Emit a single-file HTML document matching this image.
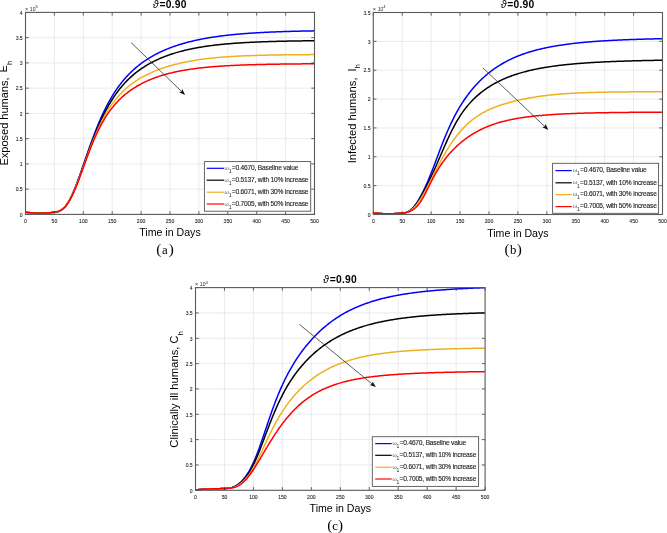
<!DOCTYPE html><html><head><meta charset="utf-8"><title>Figure</title><style>html,body{margin:0;padding:0;background:#fff;overflow:hidden;}svg{display:block;will-change:transform;filter:blur(0.3px);}</style></head><body>
<svg width="667" height="533" viewBox="0 0 667 533">
<rect width="667" height="533" fill="#fff"/>
<path d="M54.4 214.4V12.4M83.3 214.4V12.4M112.2 214.4V12.4M141.1 214.4V12.4M170 214.4V12.4M198.9 214.4V12.4M227.8 214.4V12.4M256.7 214.4V12.4M285.6 214.4V12.4M25.5 189.15H314.5M25.5 163.9H314.5M25.5 138.65H314.5M25.5 113.4H314.5M25.5 88.15H314.5M25.5 62.9H314.5M25.5 37.65H314.5" stroke="#e6e6e6" stroke-width="0.8" fill="none"/>
<path d="M25.5 212.28 26.37 212.36 27.23 212.45 28.1 212.53 28.97 212.6 29.84 212.67 30.7 212.74 31.57 212.8 32.44 212.85 33.3 212.9 34.17 212.95 35.04 213 35.9 213.04 36.77 213.09 37.64 213.12 38.5 213.16 39.37 213.18 40.24 213.19 41.11 213.19 41.97 213.17 42.84 213.15 43.71 213.13 44.57 213.09 45.44 213.05 46.31 213.01 47.17 212.96 48.04 212.92 48.91 212.87 49.78 212.79 50.64 212.69 51.51 212.58 52.38 212.46 53.24 212.36 54.11 212.27 54.98 212.19 55.84 212.09 56.71 211.95 57.58 211.75 58.45 211.5 59.31 211.18 60.18 210.79 61.05 210.3 61.91 209.73 62.78 209.06 63.65 208.28 64.52 207.39 65.38 206.39 66.25 205.27 67.12 204.04 67.98 202.7 68.85 201.24 69.72 199.67 70.58 198 71.45 196.22 72.32 194.35 73.19 192.39 74.05 190.35 74.92 188.22 75.79 186.03 76.65 183.78 77.52 181.46 78.39 179.1 79.25 176.7 80.12 174.26 80.99 171.79 81.86 169.31 82.72 166.8 83.59 164.29 84.46 161.77 85.32 159.25 86.19 156.74 87.06 154.24 87.92 151.75 88.79 149.29 89.66 146.84 90.53 144.42 91.39 142.03 92.26 139.67 93.13 137.34 93.99 135.04 94.86 132.79 95.73 130.57 96.59 128.38 97.46 126.24 98.33 124.14 99.2 122.08 100.06 120.07 100.93 118.09 101.8 116.16 102.66 114.27 103.53 112.42 104.4 110.61 105.26 108.85 106.13 107.13 107 105.44 107.86 103.8 108.73 102.2 109.6 100.63 110.47 99.1 111.33 97.61 112.2 96.16 113.07 94.75 113.93 93.36 114.8 92.02 115.67 90.7 116.53 89.42 117.4 88.17 118.27 86.95 119.14 85.76 120 84.61 120.87 83.48 121.74 82.37 122.6 81.3 123.47 80.25 124.34 79.22 125.2 78.23 126.07 77.25 126.94 76.3 127.81 75.37 128.67 74.46 129.54 73.58 130.41 72.71 131.27 71.87 132.14 71.04 133.01 70.24 133.88 69.45 134.74 68.68 135.61 67.93 136.48 67.19 137.34 66.47 138.21 65.77 139.08 65.08 139.94 64.41 140.81 63.75 141.68 63.1 142.55 62.47 143.41 61.86 144.28 61.25 145.15 60.66 146.01 60.08 146.88 59.52 147.75 58.96 148.61 58.42 149.48 57.88 150.35 57.36 151.22 56.85 152.08 56.35 152.95 55.86 153.82 55.38 154.68 54.9 155.55 54.44 156.42 53.99 157.28 53.54 158.15 53.11 159.02 52.68 159.89 52.26 160.75 51.85 161.62 51.44 162.49 51.05 163.35 50.66 164.22 50.28 165.09 49.91 165.95 49.54 166.82 49.18 167.69 48.83 168.56 48.48 169.42 48.14 170.29 47.81 171.16 47.48 172.02 47.16 172.89 46.84 173.76 46.53 174.62 46.23 175.49 45.93 176.36 45.64 177.22 45.35 178.09 45.07 178.96 44.79 179.83 44.52 180.69 44.25 181.56 43.99 182.43 43.73 183.29 43.48 184.16 43.23 185.03 42.99 185.9 42.75 186.76 42.52 187.63 42.29 188.5 42.06 189.36 41.84 190.23 41.62 191.1 41.41 191.96 41.2 192.83 40.99 193.7 40.79 194.56 40.59 195.43 40.39 196.3 40.2 197.17 40.01 198.03 39.83 198.9 39.65 199.77 39.47 200.63 39.3 201.5 39.12 202.37 38.96 203.23 38.79 204.1 38.63 204.97 38.47 205.84 38.31 206.7 38.16 207.57 38.01 208.44 37.86 209.3 37.72 210.17 37.57 211.04 37.43 211.91 37.3 212.77 37.16 213.64 37.03 214.51 36.9 215.37 36.77 216.24 36.65 217.11 36.52 217.97 36.4 218.84 36.29 219.71 36.17 220.58 36.06 221.44 35.94 222.31 35.83 223.18 35.73 224.04 35.62 224.91 35.52 225.78 35.42 226.64 35.32 227.51 35.22 228.38 35.12 229.24 35.03 230.11 34.93 230.98 34.84 231.85 34.75 232.71 34.67 233.58 34.58 234.45 34.5 235.31 34.41 236.18 34.33 237.05 34.25 237.91 34.17 238.78 34.1 239.65 34.02 240.52 33.95 241.38 33.87 242.25 33.8 243.12 33.73 243.98 33.67 244.85 33.6 245.72 33.53 246.59 33.47 247.45 33.4 248.32 33.34 249.19 33.28 250.05 33.22 250.92 33.16 251.79 33.1 252.65 33.05 253.52 32.99 254.39 32.94 255.26 32.88 256.12 32.83 256.99 32.78 257.86 32.73 258.72 32.68 259.59 32.63 260.46 32.58 261.32 32.54 262.19 32.49 263.06 32.44 263.92 32.4 264.79 32.36 265.66 32.31 266.53 32.27 267.39 32.23 268.26 32.19 269.13 32.15 269.99 32.11 270.86 32.07 271.73 32.04 272.6 32 273.46 31.96 274.33 31.93 275.2 31.89 276.06 31.86 276.93 31.83 277.8 31.79 278.66 31.76 279.53 31.73 280.4 31.7 281.26 31.67 282.13 31.64 283 31.61 283.87 31.58 284.73 31.55 285.6 31.53 286.47 31.5 287.33 31.47 288.2 31.45 289.07 31.42 289.94 31.4 290.8 31.37 291.67 31.35 292.54 31.32 293.4 31.3 294.27 31.28 295.14 31.26 296 31.23 296.87 31.21 297.74 31.19 298.6 31.17 299.47 31.15 300.34 31.13 301.21 31.11 302.07 31.09 302.94 31.07 303.81 31.05 304.67 31.04 305.54 31.02 306.41 31 307.27 30.98 308.14 30.97 309.01 30.95 309.88 30.93 310.74 30.92 311.61 30.9 312.48 30.89 313.34 30.87 314.21 30.86" stroke="#0000ff" stroke-width="1.5" fill="none" stroke-linejoin="round"/>
<path d="M25.5 212.28 26.37 212.36 27.23 212.45 28.1 212.53 28.97 212.6 29.84 212.67 30.7 212.74 31.57 212.8 32.44 212.85 33.3 212.9 34.17 212.95 35.04 213 35.9 213.04 36.77 213.09 37.64 213.12 38.5 213.16 39.37 213.18 40.24 213.19 41.11 213.19 41.97 213.17 42.84 213.15 43.71 213.13 44.57 213.09 45.44 213.05 46.31 213.01 47.17 212.96 48.04 212.91 48.91 212.86 49.78 212.79 50.64 212.68 51.51 212.56 52.38 212.44 53.24 212.33 54.11 212.23 54.98 212.15 55.84 212.03 56.71 211.87 57.58 211.67 58.45 211.41 59.31 211.08 60.18 210.68 61.05 210.19 61.91 209.62 62.78 208.96 63.65 208.19 64.52 207.32 65.38 206.34 66.25 205.25 67.12 204.05 67.98 202.74 68.85 201.32 69.72 199.8 70.58 198.17 71.45 196.45 72.32 194.63 73.19 192.72 74.05 190.73 74.92 188.67 75.79 186.53 76.65 184.34 77.52 182.08 78.39 179.78 79.25 177.44 80.12 175.06 80.99 172.66 81.86 170.23 82.72 167.79 83.59 165.34 84.46 162.88 85.32 160.43 86.19 157.98 87.06 155.55 87.92 153.12 88.79 150.72 89.66 148.34 90.53 145.99 91.39 143.66 92.26 141.36 93.13 139.1 93.99 136.88 94.86 134.69 95.73 132.54 96.59 130.42 97.46 128.35 98.33 126.32 99.2 124.34 100.06 122.39 100.93 120.49 101.8 118.63 102.66 116.81 103.53 115.03 104.4 113.3 105.26 111.61 106.13 109.96 107 108.35 107.86 106.78 108.73 105.24 109.6 103.75 110.47 102.3 111.33 100.88 112.2 99.5 113.07 98.15 113.93 96.84 114.8 95.56 115.67 94.32 116.53 93.11 117.4 91.93 118.27 90.77 119.14 89.65 120 88.56 120.87 87.5 121.74 86.46 122.6 85.45 123.47 84.46 124.34 83.5 125.2 82.56 126.07 81.65 126.94 80.76 127.81 79.89 128.67 79.04 129.54 78.21 130.41 77.4 131.27 76.62 132.14 75.85 133.01 75.1 133.88 74.36 134.74 73.65 135.61 72.95 136.48 72.26 137.34 71.6 138.21 70.94 139.08 70.3 139.94 69.68 140.81 69.07 141.68 68.48 142.55 67.89 143.41 67.32 144.28 66.77 145.15 66.22 146.01 65.69 146.88 65.17 147.75 64.66 148.61 64.16 149.48 63.67 150.35 63.19 151.22 62.72 152.08 62.26 152.95 61.81 153.82 61.37 154.68 60.94 155.55 60.52 156.42 60.11 157.28 59.7 158.15 59.31 159.02 58.92 159.89 58.54 160.75 58.17 161.62 57.8 162.49 57.44 163.35 57.09 164.22 56.75 165.09 56.41 165.95 56.08 166.82 55.76 167.69 55.45 168.56 55.14 169.42 54.83 170.29 54.53 171.16 54.24 172.02 53.96 172.89 53.68 173.76 53.4 174.62 53.13 175.49 52.87 176.36 52.61 177.22 52.36 178.09 52.11 178.96 51.87 179.83 51.63 180.69 51.4 181.56 51.17 182.43 50.94 183.29 50.72 184.16 50.51 185.03 50.3 185.9 50.09 186.76 49.89 187.63 49.69 188.5 49.49 189.36 49.3 190.23 49.12 191.1 48.93 191.96 48.76 192.83 48.58 193.7 48.41 194.56 48.24 195.43 48.07 196.3 47.91 197.17 47.75 198.03 47.6 198.9 47.45 199.77 47.3 200.63 47.15 201.5 47.01 202.37 46.87 203.23 46.73 204.1 46.6 204.97 46.46 205.84 46.34 206.7 46.21 207.57 46.09 208.44 45.96 209.3 45.85 210.17 45.73 211.04 45.62 211.91 45.5 212.77 45.39 213.64 45.29 214.51 45.18 215.37 45.08 216.24 44.98 217.11 44.88 217.97 44.79 218.84 44.69 219.71 44.6 220.58 44.51 221.44 44.42 222.31 44.33 223.18 44.25 224.04 44.16 224.91 44.08 225.78 44 226.64 43.93 227.51 43.85 228.38 43.77 229.24 43.7 230.11 43.63 230.98 43.56 231.85 43.49 232.71 43.42 233.58 43.36 234.45 43.29 235.31 43.23 236.18 43.17 237.05 43.11 237.91 43.05 238.78 42.99 239.65 42.93 240.52 42.88 241.38 42.82 242.25 42.77 243.12 42.72 243.98 42.67 244.85 42.62 245.72 42.57 246.59 42.52 247.45 42.47 248.32 42.43 249.19 42.38 250.05 42.34 250.92 42.3 251.79 42.26 252.65 42.21 253.52 42.17 254.39 42.13 255.26 42.1 256.12 42.06 256.99 42.02 257.86 41.98 258.72 41.95 259.59 41.91 260.46 41.88 261.32 41.85 262.19 41.82 263.06 41.78 263.92 41.75 264.79 41.72 265.66 41.69 266.53 41.66 267.39 41.63 268.26 41.61 269.13 41.58 269.99 41.55 270.86 41.53 271.73 41.5 272.6 41.48 273.46 41.45 274.33 41.43 275.2 41.4 276.06 41.38 276.93 41.36 277.8 41.34 278.66 41.31 279.53 41.29 280.4 41.27 281.26 41.25 282.13 41.23 283 41.21 283.87 41.19 284.73 41.18 285.6 41.16 286.47 41.14 287.33 41.12 288.2 41.11 289.07 41.09 289.94 41.07 290.8 41.06 291.67 41.04 292.54 41.03 293.4 41.01 294.27 41 295.14 40.98 296 40.97 296.87 40.95 297.74 40.94 298.6 40.93 299.47 40.91 300.34 40.9 301.21 40.89 302.07 40.88 302.94 40.87 303.81 40.85 304.67 40.84 305.54 40.83 306.41 40.82 307.27 40.81 308.14 40.8 309.01 40.79 309.88 40.78 310.74 40.77 311.61 40.76 312.48 40.75 313.34 40.74 314.21 40.73" stroke="#000000" stroke-width="1.5" fill="none" stroke-linejoin="round"/>
<path d="M25.5 212.28 26.37 212.36 27.23 212.45 28.1 212.53 28.97 212.6 29.84 212.67 30.7 212.74 31.57 212.8 32.44 212.85 33.3 212.9 34.17 212.95 35.04 213 35.9 213.04 36.77 213.09 37.64 213.12 38.5 213.16 39.37 213.18 40.24 213.19 41.11 213.19 41.97 213.17 42.84 213.15 43.71 213.13 44.57 213.09 45.44 213.05 46.31 213.01 47.17 212.96 48.04 212.91 48.91 212.86 49.78 212.78 50.64 212.68 51.51 212.56 52.38 212.43 53.24 212.32 54.11 212.21 54.98 212.12 55.84 212 56.71 211.84 57.58 211.63 58.45 211.36 59.31 211.03 60.18 210.63 61.05 210.14 61.91 209.57 62.78 208.9 63.65 208.14 64.52 207.28 65.38 206.31 66.25 205.23 67.12 204.04 67.98 202.75 68.85 201.36 69.72 199.85 70.58 198.25 71.45 196.55 72.32 194.77 73.19 192.89 74.05 190.94 74.92 188.91 75.79 186.81 76.65 184.65 77.52 182.44 78.39 180.19 79.25 177.89 80.12 175.57 80.99 173.21 81.86 170.84 82.72 168.45 83.59 166.06 84.46 163.67 85.32 161.28 86.19 158.9 87.06 156.53 87.92 154.19 88.79 151.86 89.66 149.56 90.53 147.29 91.39 145.05 92.26 142.85 93.13 140.68 93.99 138.56 94.86 136.47 95.73 134.42 96.59 132.42 97.46 130.46 98.33 128.55 99.2 126.68 100.06 124.86 100.93 123.08 101.8 121.35 102.66 119.67 103.53 118.02 104.4 116.43 105.26 114.87 106.13 113.36 107 111.9 107.86 110.47 108.73 109.09 109.6 107.74 110.47 106.44 111.33 105.17 112.2 103.94 113.07 102.74 113.93 101.58 114.8 100.46 115.67 99.37 116.53 98.3 117.4 97.28 118.27 96.28 119.14 95.3 120 94.36 120.87 93.44 121.74 92.55 122.6 91.69 123.47 90.85 124.34 90.03 125.2 89.24 126.07 88.46 126.94 87.71 127.81 86.98 128.67 86.26 129.54 85.57 130.41 84.89 131.27 84.23 132.14 83.59 133.01 82.96 133.88 82.35 134.74 81.75 135.61 81.17 136.48 80.6 137.34 80.05 138.21 79.51 139.08 78.98 139.94 78.46 140.81 77.95 141.68 77.46 142.55 76.97 143.41 76.5 144.28 76.04 145.15 75.59 146.01 75.14 146.88 74.71 147.75 74.28 148.61 73.87 149.48 73.46 150.35 73.06 151.22 72.67 152.08 72.29 152.95 71.91 153.82 71.54 154.68 71.18 155.55 70.83 156.42 70.48 157.28 70.14 158.15 69.81 159.02 69.48 159.89 69.16 160.75 68.85 161.62 68.54 162.49 68.24 163.35 67.94 164.22 67.65 165.09 67.36 165.95 67.08 166.82 66.81 167.69 66.54 168.56 66.28 169.42 66.02 170.29 65.77 171.16 65.52 172.02 65.27 172.89 65.03 173.76 64.8 174.62 64.57 175.49 64.35 176.36 64.12 177.22 63.91 178.09 63.7 178.96 63.49 179.83 63.28 180.69 63.09 181.56 62.89 182.43 62.7 183.29 62.51 184.16 62.33 185.03 62.15 185.9 61.97 186.76 61.8 187.63 61.63 188.5 61.46 189.36 61.3 190.23 61.14 191.1 60.98 191.96 60.83 192.83 60.68 193.7 60.54 194.56 60.39 195.43 60.25 196.3 60.12 197.17 59.98 198.03 59.85 198.9 59.72 199.77 59.6 200.63 59.47 201.5 59.35 202.37 59.23 203.23 59.12 204.1 59.01 204.97 58.9 205.84 58.79 206.7 58.68 207.57 58.58 208.44 58.48 209.3 58.38 210.17 58.29 211.04 58.19 211.91 58.1 212.77 58.01 213.64 57.92 214.51 57.84 215.37 57.75 216.24 57.67 217.11 57.59 217.97 57.52 218.84 57.44 219.71 57.36 220.58 57.29 221.44 57.22 222.31 57.15 223.18 57.08 224.04 57.02 224.91 56.95 225.78 56.89 226.64 56.83 227.51 56.77 228.38 56.71 229.24 56.65 230.11 56.6 230.98 56.54 231.85 56.49 232.71 56.44 233.58 56.39 234.45 56.34 235.31 56.29 236.18 56.24 237.05 56.2 237.91 56.15 238.78 56.11 239.65 56.07 240.52 56.02 241.38 55.98 242.25 55.94 243.12 55.9 243.98 55.87 244.85 55.83 245.72 55.79 246.59 55.76 247.45 55.73 248.32 55.69 249.19 55.66 250.05 55.63 250.92 55.6 251.79 55.57 252.65 55.54 253.52 55.51 254.39 55.48 255.26 55.46 256.12 55.43 256.99 55.4 257.86 55.38 258.72 55.35 259.59 55.33 260.46 55.31 261.32 55.28 262.19 55.26 263.06 55.24 263.92 55.22 264.79 55.2 265.66 55.18 266.53 55.16 267.39 55.14 268.26 55.12 269.13 55.1 269.99 55.09 270.86 55.07 271.73 55.05 272.6 55.04 273.46 55.02 274.33 55.01 275.2 54.99 276.06 54.98 276.93 54.96 277.8 54.95 278.66 54.94 279.53 54.92 280.4 54.91 281.26 54.9 282.13 54.89 283 54.87 283.87 54.86 284.73 54.85 285.6 54.84 286.47 54.83 287.33 54.82 288.2 54.81 289.07 54.8 289.94 54.79 290.8 54.78 291.67 54.77 292.54 54.76 293.4 54.75 294.27 54.75 295.14 54.74 296 54.73 296.87 54.72 297.74 54.71 298.6 54.71 299.47 54.7 300.34 54.69 301.21 54.69 302.07 54.68 302.94 54.67 303.81 54.67 304.67 54.66 305.54 54.65 306.41 54.65 307.27 54.64 308.14 54.64 309.01 54.63 309.88 54.63 310.74 54.62 311.61 54.62 312.48 54.61 313.34 54.61 314.21 54.6" stroke="#edb120" stroke-width="1.5" fill="none" stroke-linejoin="round"/>
<path d="M25.5 212.28 26.37 212.36 27.23 212.45 28.1 212.53 28.97 212.6 29.84 212.67 30.7 212.74 31.57 212.8 32.44 212.85 33.3 212.9 34.17 212.95 35.04 213 35.9 213.04 36.77 213.09 37.64 213.12 38.5 213.16 39.37 213.18 40.24 213.19 41.11 213.19 41.97 213.17 42.84 213.15 43.71 213.12 44.57 213.08 45.44 213.04 46.31 212.99 47.17 212.94 48.04 212.88 48.91 212.81 49.78 212.71 50.64 212.59 51.51 212.44 52.38 212.29 53.24 212.14 54.11 212.01 54.98 211.9 55.84 211.75 56.71 211.58 57.58 211.36 58.45 211.1 59.31 210.78 60.18 210.4 61.05 209.95 61.91 209.42 62.78 208.82 63.65 208.12 64.52 207.32 65.38 206.43 66.25 205.43 67.12 204.33 67.98 203.11 68.85 201.79 69.72 200.36 70.58 198.82 71.45 197.18 72.32 195.44 73.19 193.6 74.05 191.68 74.92 189.67 75.79 187.59 76.65 185.44 77.52 183.23 78.39 180.97 79.25 178.67 80.12 176.33 80.99 173.97 81.86 171.59 82.72 169.2 83.59 166.8 84.46 164.41 85.32 162.03 86.19 159.66 87.06 157.32 87.92 155 88.79 152.71 89.66 150.45 90.53 148.23 91.39 146.05 92.26 143.92 93.13 141.83 93.99 139.79 94.86 137.79 95.73 135.84 96.59 133.95 97.46 132.1 98.33 130.3 99.2 128.55 100.06 126.85 100.93 125.2 101.8 123.6 102.66 122.05 103.53 120.54 104.4 119.07 105.26 117.65 106.13 116.28 107 114.94 107.86 113.65 108.73 112.39 109.6 111.18 110.47 110 111.33 108.85 112.2 107.74 113.07 106.66 113.93 105.62 114.8 104.6 115.67 103.62 116.53 102.66 117.4 101.73 118.27 100.83 119.14 99.95 120 99.09 120.87 98.26 121.74 97.46 122.6 96.67 123.47 95.9 124.34 95.16 125.2 94.43 126.07 93.73 126.94 93.04 127.81 92.37 128.67 91.72 129.54 91.08 130.41 90.46 131.27 89.85 132.14 89.26 133.01 88.68 133.88 88.12 134.74 87.57 135.61 87.03 136.48 86.51 137.34 85.99 138.21 85.49 139.08 85.01 139.94 84.53 140.81 84.06 141.68 83.61 142.55 83.16 143.41 82.73 144.28 82.3 145.15 81.88 146.01 81.48 146.88 81.08 147.75 80.69 148.61 80.31 149.48 79.94 150.35 79.58 151.22 79.22 152.08 78.87 152.95 78.54 153.82 78.2 154.68 77.88 155.55 77.56 156.42 77.25 157.28 76.95 158.15 76.65 159.02 76.36 159.89 76.08 160.75 75.8 161.62 75.53 162.49 75.26 163.35 75 164.22 74.75 165.09 74.5 165.95 74.25 166.82 74.02 167.69 73.78 168.56 73.56 169.42 73.34 170.29 73.12 171.16 72.91 172.02 72.7 172.89 72.49 173.76 72.3 174.62 72.1 175.49 71.91 176.36 71.73 177.22 71.54 178.09 71.37 178.96 71.19 179.83 71.02 180.69 70.86 181.56 70.69 182.43 70.54 183.29 70.38 184.16 70.23 185.03 70.08 185.9 69.94 186.76 69.79 187.63 69.66 188.5 69.52 189.36 69.39 190.23 69.26 191.1 69.13 191.96 69.01 192.83 68.89 193.7 68.77 194.56 68.65 195.43 68.54 196.3 68.43 197.17 68.32 198.03 68.21 198.9 68.11 199.77 68.01 200.63 67.91 201.5 67.82 202.37 67.72 203.23 67.63 204.1 67.54 204.97 67.45 205.84 67.36 206.7 67.28 207.57 67.2 208.44 67.12 209.3 67.04 210.17 66.96 211.04 66.89 211.91 66.81 212.77 66.74 213.64 66.67 214.51 66.6 215.37 66.53 216.24 66.47 217.11 66.4 217.97 66.34 218.84 66.28 219.71 66.22 220.58 66.16 221.44 66.1 222.31 66.05 223.18 65.99 224.04 65.94 224.91 65.89 225.78 65.83 226.64 65.78 227.51 65.74 228.38 65.69 229.24 65.64 230.11 65.59 230.98 65.55 231.85 65.51 232.71 65.46 233.58 65.42 234.45 65.38 235.31 65.34 236.18 65.3 237.05 65.26 237.91 65.23 238.78 65.19 239.65 65.15 240.52 65.12 241.38 65.08 242.25 65.05 243.12 65.02 243.98 64.98 244.85 64.95 245.72 64.92 246.59 64.89 247.45 64.86 248.32 64.83 249.19 64.81 250.05 64.78 250.92 64.75 251.79 64.73 252.65 64.7 253.52 64.68 254.39 64.65 255.26 64.63 256.12 64.6 256.99 64.58 257.86 64.56 258.72 64.54 259.59 64.51 260.46 64.49 261.32 64.47 262.19 64.45 263.06 64.43 263.92 64.41 264.79 64.39 265.66 64.38 266.53 64.36 267.39 64.34 268.26 64.32 269.13 64.31 269.99 64.29 270.86 64.27 271.73 64.26 272.6 64.24 273.46 64.23 274.33 64.21 275.2 64.2 276.06 64.18 276.93 64.17 277.8 64.15 278.66 64.14 279.53 64.13 280.4 64.12 281.26 64.1 282.13 64.09 283 64.08 283.87 64.07 284.73 64.05 285.6 64.04 286.47 64.03 287.33 64.02 288.2 64.01 289.07 64 289.94 63.99 290.8 63.98 291.67 63.97 292.54 63.96 293.4 63.95 294.27 63.94 295.14 63.93 296 63.93 296.87 63.92 297.74 63.91 298.6 63.9 299.47 63.89 300.34 63.88 301.21 63.88 302.07 63.87 302.94 63.86 303.81 63.85 304.67 63.85 305.54 63.84 306.41 63.83 307.27 63.83 308.14 63.82 309.01 63.81 309.88 63.81 310.74 63.8 311.61 63.8 312.48 63.79 313.34 63.78 314.21 63.78" stroke="#ff0000" stroke-width="1.5" fill="none" stroke-linejoin="round"/>
<path d="M25.5 214.4v-3.2M25.5 12.4v3.2M54.4 214.4v-3.2M54.4 12.4v3.2M83.3 214.4v-3.2M83.3 12.4v3.2M112.2 214.4v-3.2M112.2 12.4v3.2M141.1 214.4v-3.2M141.1 12.4v3.2M170 214.4v-3.2M170 12.4v3.2M198.9 214.4v-3.2M198.9 12.4v3.2M227.8 214.4v-3.2M227.8 12.4v3.2M256.7 214.4v-3.2M256.7 12.4v3.2M285.6 214.4v-3.2M285.6 12.4v3.2M314.5 214.4v-3.2M314.5 12.4v3.2M25.5 214.4h3.2M314.5 214.4h-3.2M25.5 189.15h3.2M314.5 189.15h-3.2M25.5 163.9h3.2M314.5 163.9h-3.2M25.5 138.65h3.2M314.5 138.65h-3.2M25.5 113.4h3.2M314.5 113.4h-3.2M25.5 88.15h3.2M314.5 88.15h-3.2M25.5 62.9h3.2M314.5 62.9h-3.2M25.5 37.65h3.2M314.5 37.65h-3.2M25.5 12.4h3.2M314.5 12.4h-3.2" stroke="#262626" stroke-width="0.7" fill="none"/>
<rect x="25.5" y="12.4" width="289" height="202" fill="none" stroke="#5a5a5a" stroke-width="1.1"/>
<g font-family='"Liberation Sans", sans-serif' font-size="6.2" fill="#262626" stroke="#262626" stroke-width="0.1"><text transform="translate(25.5 223.3) scale(0.82 1)" text-anchor="middle">0</text><text transform="translate(54.4 223.3) scale(0.82 1)" text-anchor="middle">50</text><text transform="translate(83.3 223.3) scale(0.82 1)" text-anchor="middle">100</text><text transform="translate(112.2 223.3) scale(0.82 1)" text-anchor="middle">150</text><text transform="translate(141.1 223.3) scale(0.82 1)" text-anchor="middle">200</text><text transform="translate(170 223.3) scale(0.82 1)" text-anchor="middle">250</text><text transform="translate(198.9 223.3) scale(0.82 1)" text-anchor="middle">300</text><text transform="translate(227.8 223.3) scale(0.82 1)" text-anchor="middle">350</text><text transform="translate(256.7 223.3) scale(0.82 1)" text-anchor="middle">400</text><text transform="translate(285.6 223.3) scale(0.82 1)" text-anchor="middle">450</text><text transform="translate(314.5 223.3) scale(0.82 1)" text-anchor="middle">500</text><text transform="translate(22.7 216.65) scale(0.82 1)" text-anchor="end">0</text><text transform="translate(22.7 191.4) scale(0.82 1)" text-anchor="end">0.5</text><text transform="translate(22.7 166.15) scale(0.82 1)" text-anchor="end">1</text><text transform="translate(22.7 140.9) scale(0.82 1)" text-anchor="end">1.5</text><text transform="translate(22.7 115.65) scale(0.82 1)" text-anchor="end">2</text><text transform="translate(22.7 90.4) scale(0.82 1)" text-anchor="end">2.5</text><text transform="translate(22.7 65.15) scale(0.82 1)" text-anchor="end">3</text><text transform="translate(22.7 39.9) scale(0.82 1)" text-anchor="end">3.5</text><text transform="translate(22.7 14.65) scale(0.82 1)" text-anchor="end">4</text></g>
<g font-family='"Liberation Sans", sans-serif' fill="#262626"><text x="24.93" y="11" font-size="5.4">&#215;</text><text x="29.87" y="11" font-size="5">10</text><text x="35.45" y="8.3" font-size="4.2">5</text></g>
<text x="152.8" y="7.5" font-family='"Liberation Sans", sans-serif' font-size="10.5" font-style="italic" fill="#000">&#977;</text>
<text x="159.4" y="7.5" font-family='"Liberation Sans", sans-serif' font-size="10.3" font-weight="bold" fill="#000" textLength="27.0" lengthAdjust="spacing"><tspan dy="0.6">=</tspan><tspan dy="-0.6">0.90</tspan></text>
<text x="170" y="236.4" font-family='"Liberation Sans", sans-serif' font-size="10.6" fill="#000" text-anchor="middle">Time in Days</text>
<g font-family='"Liberation Serif", serif' fill="#000">
<text x="156.23" y="254.45" font-size="15.2">(</text>
<text x="162.07" y="254.15" font-size="12.8">a</text>
<text x="168.81" y="254.45" font-size="15.2">)</text>
</g>
<rect x="204.4" y="161.6" width="106.3" height="49.6" fill="#fff" stroke="#555" stroke-width="0.9"/>
<path d="M206.7 168.3H224" stroke="#0000ff" stroke-width="1.2"/>
<text x="224.6" y="169.8" font-family='"Liberation Sans", sans-serif' font-size="5.4" fill="#555">&#969;</text>
<text x="228.8" y="173.1" font-family='"Liberation Sans", sans-serif' font-size="5.0" fill="#222">1</text>
<text x="231.8" y="170" font-family='"Liberation Sans", sans-serif' font-size="6.6" fill="#222" stroke="#222" stroke-width="0.12" textLength="66.5" lengthAdjust="spacing">=0.4670, Baseline value</text>
<path d="M206.7 180.2H224" stroke="#000000" stroke-width="1.2"/>
<text x="224.6" y="181.7" font-family='"Liberation Sans", sans-serif' font-size="5.4" fill="#555">&#969;</text>
<text x="228.8" y="185" font-family='"Liberation Sans", sans-serif' font-size="5.0" fill="#222">1</text>
<text x="231.8" y="181.9" font-family='"Liberation Sans", sans-serif' font-size="6.6" fill="#222" stroke="#222" stroke-width="0.12" textLength="76.7" lengthAdjust="spacing">=0.5137, with 10% increase</text>
<path d="M206.7 192.2H224" stroke="#edb120" stroke-width="1.2"/>
<text x="224.6" y="193.7" font-family='"Liberation Sans", sans-serif' font-size="5.4" fill="#555">&#969;</text>
<text x="228.8" y="197" font-family='"Liberation Sans", sans-serif' font-size="5.0" fill="#222">1</text>
<text x="231.8" y="193.9" font-family='"Liberation Sans", sans-serif' font-size="6.6" fill="#222" stroke="#222" stroke-width="0.12" textLength="76.7" lengthAdjust="spacing">=0.6071, with 30% increase</text>
<path d="M206.7 204H224" stroke="#ff0000" stroke-width="1.2"/>
<text x="224.6" y="205.5" font-family='"Liberation Sans", sans-serif' font-size="5.4" fill="#555">&#969;</text>
<text x="228.8" y="208.8" font-family='"Liberation Sans", sans-serif' font-size="5.0" fill="#222">1</text>
<text x="231.8" y="205.7" font-family='"Liberation Sans", sans-serif' font-size="6.6" fill="#222" stroke="#222" stroke-width="0.12" textLength="76.7" lengthAdjust="spacing">=0.7005, with 50% increase</text>
<path d="M131.1 42.6L181.75 91.66" stroke="#333" stroke-width="0.8"/>
<path d="M185.1 94.9L179.05 92.24L181.54 91.45L182.25 88.93Z" fill="#111"/>
<text transform="translate(7.7 165.5) rotate(-90)" font-family='"Liberation Sans", sans-serif' font-size="10.9" fill="#000" textLength="88" lengthAdjust="spacingAndGlyphs">Exposed humans,</text>
<text transform="translate(7.2 72.5) rotate(-90)" font-family='"Liberation Sans", sans-serif' font-size="10.9" fill="#000">E</text>
<text transform="translate(12.3 65.1) rotate(-90)" font-family='"Liberation Sans", sans-serif' font-size="7.8" fill="#000">h</text>
<path d="M402.22 214.5V12.5M431.14 214.5V12.5M460.06 214.5V12.5M488.98 214.5V12.5M517.9 214.5V12.5M546.82 214.5V12.5M575.74 214.5V12.5M604.66 214.5V12.5M633.58 214.5V12.5M373.3 185.64H662.5M373.3 156.79H662.5M373.3 127.93H662.5M373.3 99.07H662.5M373.3 70.21H662.5M373.3 41.36H662.5" stroke="#e6e6e6" stroke-width="0.8" fill="none"/>
<path d="M373.3 212.88 374.17 212.97 375.04 213.05 375.9 213.13 376.77 213.21 377.64 213.28 378.51 213.34 379.37 213.41 380.24 213.46 381.11 213.52 381.98 213.57 382.84 213.63 383.71 213.68 384.58 213.73 385.45 213.77 386.31 213.79 387.18 213.81 388.05 213.81 388.92 213.8 389.78 213.78 390.65 213.76 391.52 213.73 392.39 213.7 393.25 213.66 394.12 213.63 394.99 213.59 395.86 213.55 396.73 213.48 397.59 213.4 398.46 213.31 399.33 213.22 400.2 213.13 401.06 213.04 401.93 212.97 402.8 212.9 403.67 212.81 404.53 212.68 405.4 212.49 406.27 212.25 407.14 211.93 408 211.54 408.87 211.06 409.74 210.51 410.61 209.86 411.47 209.12 412.34 208.3 413.21 207.38 414.08 206.38 414.94 205.3 415.81 204.13 416.68 202.89 417.55 201.57 418.42 200.17 419.28 198.71 420.15 197.19 421.02 195.6 421.89 193.96 422.75 192.26 423.62 190.5 424.49 188.69 425.36 186.82 426.22 184.91 427.09 182.94 427.96 180.93 428.83 178.87 429.69 176.77 430.56 174.62 431.43 172.44 432.3 170.22 433.16 167.97 434.03 165.7 434.9 163.41 435.77 161.11 436.63 158.8 437.5 156.48 438.37 154.17 439.24 151.86 440.11 149.57 440.97 147.3 441.84 145.05 442.71 142.82 443.58 140.63 444.44 138.47 445.31 136.35 446.18 134.26 447.05 132.21 447.91 130.21 448.78 128.24 449.65 126.32 450.52 124.44 451.38 122.61 452.25 120.81 453.12 119.06 453.99 117.35 454.85 115.68 455.72 114.05 456.59 112.46 457.46 110.91 458.32 109.39 459.19 107.91 460.06 106.46 460.93 105.05 461.8 103.67 462.66 102.32 463.53 101.01 464.4 99.72 465.27 98.46 466.13 97.23 467 96.03 467.87 94.85 468.74 93.7 469.6 92.58 470.47 91.47 471.34 90.4 472.21 89.34 473.07 88.31 473.94 87.3 474.81 86.31 475.68 85.34 476.54 84.39 477.41 83.47 478.28 82.56 479.15 81.67 480.01 80.8 480.88 79.94 481.75 79.11 482.62 78.29 483.49 77.49 484.35 76.71 485.22 75.94 486.09 75.19 486.96 74.45 487.82 73.73 488.69 73.02 489.56 72.33 490.43 71.65 491.29 70.99 492.16 70.34 493.03 69.7 493.9 69.08 494.76 68.47 495.63 67.87 496.5 67.28 497.37 66.71 498.23 66.15 499.1 65.59 499.97 65.06 500.84 64.53 501.7 64.01 502.57 63.5 503.44 63.01 504.31 62.52 505.18 62.04 506.04 61.58 506.91 61.12 507.78 60.67 508.65 60.23 509.51 59.81 510.38 59.38 511.25 58.97 512.12 58.57 512.98 58.17 513.85 57.79 514.72 57.41 515.59 57.03 516.45 56.67 517.32 56.31 518.19 55.96 519.06 55.62 519.92 55.28 520.79 54.96 521.66 54.63 522.53 54.32 523.39 54.01 524.26 53.7 525.13 53.41 526 53.11 526.87 52.83 527.73 52.55 528.6 52.27 529.47 52.01 530.34 51.74 531.2 51.48 532.07 51.23 532.94 50.98 533.81 50.74 534.67 50.5 535.54 50.27 536.41 50.04 537.28 49.81 538.14 49.59 539.01 49.38 539.88 49.17 540.75 48.96 541.61 48.75 542.48 48.55 543.35 48.36 544.22 48.17 545.08 47.98 545.95 47.79 546.82 47.61 547.69 47.44 548.56 47.26 549.42 47.09 550.29 46.92 551.16 46.76 552.03 46.6 552.89 46.44 553.76 46.28 554.63 46.13 555.5 45.98 556.36 45.84 557.23 45.69 558.1 45.55 558.97 45.41 559.83 45.28 560.7 45.14 561.57 45.01 562.44 44.89 563.3 44.76 564.17 44.64 565.04 44.52 565.91 44.4 566.77 44.28 567.64 44.17 568.51 44.05 569.38 43.94 570.25 43.83 571.11 43.73 571.98 43.62 572.85 43.52 573.72 43.42 574.58 43.32 575.45 43.22 576.32 43.13 577.19 43.04 578.05 42.94 578.92 42.85 579.79 42.77 580.66 42.68 581.52 42.59 582.39 42.51 583.26 42.43 584.13 42.35 584.99 42.27 585.86 42.19 586.73 42.11 587.6 42.04 588.46 41.96 589.33 41.89 590.2 41.82 591.07 41.75 591.94 41.68 592.8 41.61 593.67 41.55 594.54 41.48 595.41 41.42 596.27 41.36 597.14 41.29 598.01 41.23 598.88 41.17 599.74 41.12 600.61 41.06 601.48 41 602.35 40.95 603.21 40.89 604.08 40.84 604.95 40.78 605.82 40.73 606.68 40.68 607.55 40.63 608.42 40.58 609.29 40.53 610.15 40.49 611.02 40.44 611.89 40.39 612.76 40.35 613.63 40.3 614.49 40.26 615.36 40.22 616.23 40.17 617.1 40.13 617.96 40.09 618.83 40.05 619.7 40.01 620.57 39.97 621.43 39.94 622.3 39.9 623.17 39.86 624.04 39.83 624.9 39.79 625.77 39.75 626.64 39.72 627.51 39.69 628.37 39.65 629.24 39.62 630.11 39.59 630.98 39.56 631.84 39.52 632.71 39.49 633.58 39.46 634.45 39.43 635.32 39.4 636.18 39.38 637.05 39.35 637.92 39.32 638.79 39.29 639.65 39.26 640.52 39.24 641.39 39.21 642.26 39.19 643.12 39.16 643.99 39.14 644.86 39.11 645.73 39.09 646.59 39.06 647.46 39.04 648.33 39.02 649.2 38.99 650.06 38.97 650.93 38.95 651.8 38.93 652.67 38.91 653.53 38.89 654.4 38.87 655.27 38.85 656.14 38.83 657.01 38.81 657.87 38.79 658.74 38.77 659.61 38.75 660.48 38.73 661.34 38.71 662.21 38.69" stroke="#0000ff" stroke-width="1.5" fill="none" stroke-linejoin="round"/>
<path d="M373.3 212.88 374.17 212.97 375.04 213.05 375.9 213.13 376.77 213.21 377.64 213.28 378.51 213.34 379.37 213.41 380.24 213.46 381.11 213.52 381.98 213.57 382.84 213.63 383.71 213.68 384.58 213.73 385.45 213.77 386.31 213.79 387.18 213.81 388.05 213.81 388.92 213.8 389.78 213.78 390.65 213.76 391.52 213.73 392.39 213.7 393.25 213.66 394.12 213.63 394.99 213.59 395.86 213.55 396.73 213.48 397.59 213.4 398.46 213.31 399.33 213.22 400.2 213.13 401.06 213.06 401.93 213 402.8 212.95 403.67 212.89 404.53 212.79 405.4 212.64 406.27 212.43 407.14 212.15 408 211.79 408.87 211.35 409.74 210.82 410.61 210.2 411.47 209.49 412.34 208.69 413.21 207.81 414.08 206.84 414.94 205.79 415.81 204.66 416.68 203.46 417.55 202.19 418.42 200.86 419.28 199.47 420.15 198.02 421.02 196.53 421.89 195 422.75 193.42 423.62 191.81 424.49 190.17 425.36 188.49 426.22 186.79 427.09 185.06 427.96 183.31 428.83 181.53 429.69 179.73 430.56 177.91 431.43 176.06 432.3 174.2 433.16 172.31 434.03 170.4 434.9 168.46 435.77 166.51 436.63 164.54 437.5 162.56 438.37 160.57 439.24 158.56 440.11 156.55 440.97 154.53 441.84 152.52 442.71 150.51 443.58 148.5 444.44 146.51 445.31 144.54 446.18 142.59 447.05 140.66 447.91 138.76 448.78 136.88 449.65 135.04 450.52 133.24 451.38 131.47 452.25 129.74 453.12 128.05 453.99 126.4 454.85 124.79 455.72 123.22 456.59 121.7 457.46 120.21 458.32 118.77 459.19 117.36 460.06 116 460.93 114.68 461.8 113.39 462.66 112.15 463.53 110.93 464.4 109.76 465.27 108.62 466.13 107.51 467 106.43 467.87 105.38 468.74 104.37 469.6 103.38 470.47 102.42 471.34 101.48 472.21 100.57 473.07 99.69 473.94 98.83 474.81 97.99 475.68 97.17 476.54 96.38 477.41 95.6 478.28 94.85 479.15 94.11 480.01 93.39 480.88 92.69 481.75 92 482.62 91.33 483.49 90.68 484.35 90.04 485.22 89.42 486.09 88.81 486.96 88.22 487.82 87.64 488.69 87.07 489.56 86.52 490.43 85.98 491.29 85.45 492.16 84.93 493.03 84.42 493.9 83.93 494.76 83.44 495.63 82.97 496.5 82.5 497.37 82.05 498.23 81.61 499.1 81.17 499.97 80.75 500.84 80.33 501.7 79.93 502.57 79.53 503.44 79.14 504.31 78.76 505.18 78.38 506.04 78.02 506.91 77.66 507.78 77.31 508.65 76.97 509.51 76.63 510.38 76.3 511.25 75.98 512.12 75.66 512.98 75.36 513.85 75.05 514.72 74.76 515.59 74.47 516.45 74.18 517.32 73.91 518.19 73.63 519.06 73.37 519.92 73.11 520.79 72.85 521.66 72.6 522.53 72.35 523.39 72.11 524.26 71.88 525.13 71.65 526 71.42 526.87 71.2 527.73 70.98 528.6 70.77 529.47 70.56 530.34 70.36 531.2 70.16 532.07 69.96 532.94 69.77 533.81 69.58 534.67 69.39 535.54 69.21 536.41 69.04 537.28 68.86 538.14 68.69 539.01 68.52 539.88 68.36 540.75 68.2 541.61 68.04 542.48 67.89 543.35 67.74 544.22 67.59 545.08 67.44 545.95 67.3 546.82 67.16 547.69 67.02 548.56 66.89 549.42 66.75 550.29 66.63 551.16 66.5 552.03 66.37 552.89 66.25 553.76 66.13 554.63 66.01 555.5 65.9 556.36 65.79 557.23 65.67 558.1 65.57 558.97 65.46 559.83 65.35 560.7 65.25 561.57 65.15 562.44 65.05 563.3 64.95 564.17 64.86 565.04 64.76 565.91 64.67 566.77 64.58 567.64 64.49 568.51 64.41 569.38 64.32 570.25 64.24 571.11 64.16 571.98 64.07 572.85 64 573.72 63.92 574.58 63.84 575.45 63.77 576.32 63.69 577.19 63.62 578.05 63.55 578.92 63.48 579.79 63.41 580.66 63.34 581.52 63.28 582.39 63.21 583.26 63.15 584.13 63.09 584.99 63.02 585.86 62.96 586.73 62.91 587.6 62.85 588.46 62.79 589.33 62.73 590.2 62.68 591.07 62.62 591.94 62.57 592.8 62.52 593.67 62.47 594.54 62.42 595.41 62.37 596.27 62.32 597.14 62.27 598.01 62.22 598.88 62.18 599.74 62.13 600.61 62.09 601.48 62.04 602.35 62 603.21 61.96 604.08 61.91 604.95 61.87 605.82 61.83 606.68 61.79 607.55 61.75 608.42 61.72 609.29 61.68 610.15 61.64 611.02 61.6 611.89 61.57 612.76 61.53 613.63 61.5 614.49 61.47 615.36 61.43 616.23 61.4 617.1 61.37 617.96 61.33 618.83 61.3 619.7 61.27 620.57 61.24 621.43 61.21 622.3 61.18 623.17 61.15 624.04 61.13 624.9 61.1 625.77 61.07 626.64 61.04 627.51 61.02 628.37 60.99 629.24 60.96 630.11 60.94 630.98 60.91 631.84 60.89 632.71 60.87 633.58 60.84 634.45 60.82 635.32 60.8 636.18 60.77 637.05 60.75 637.92 60.73 638.79 60.71 639.65 60.69 640.52 60.67 641.39 60.64 642.26 60.62 643.12 60.6 643.99 60.59 644.86 60.57 645.73 60.55 646.59 60.53 647.46 60.51 648.33 60.49 649.2 60.47 650.06 60.46 650.93 60.44 651.8 60.42 652.67 60.41 653.53 60.39 654.4 60.37 655.27 60.36 656.14 60.34 657.01 60.33 657.87 60.31 658.74 60.29 659.61 60.28 660.48 60.27 661.34 60.25 662.21 60.24" stroke="#000000" stroke-width="1.5" fill="none" stroke-linejoin="round"/>
<path d="M373.3 212.88 374.17 212.97 375.04 213.05 375.9 213.13 376.77 213.21 377.64 213.28 378.51 213.34 379.37 213.41 380.24 213.46 381.11 213.52 381.98 213.57 382.84 213.63 383.71 213.68 384.58 213.73 385.45 213.77 386.31 213.79 387.18 213.81 388.05 213.81 388.92 213.8 389.78 213.78 390.65 213.76 391.52 213.73 392.39 213.7 393.25 213.66 394.12 213.63 394.99 213.59 395.86 213.55 396.73 213.48 397.59 213.4 398.46 213.3 399.33 213.21 400.2 213.11 401.06 213.02 401.93 212.93 402.8 212.86 403.67 212.77 404.53 212.66 405.4 212.5 406.27 212.29 407.14 212.04 408 211.72 408.87 211.34 409.74 210.89 410.61 210.37 411.47 209.78 412.34 209.11 413.21 208.36 414.08 207.53 414.94 206.63 415.81 205.65 416.68 204.6 417.55 203.48 418.42 202.29 419.28 201.03 420.15 199.72 421.02 198.35 421.89 196.92 422.75 195.45 423.62 193.93 424.49 192.38 425.36 190.79 426.22 189.17 427.09 187.52 427.96 185.85 428.83 184.17 429.69 182.47 430.56 180.76 431.43 179.04 432.3 177.32 433.16 175.6 434.03 173.88 434.9 172.17 435.77 170.47 436.63 168.78 437.5 167.1 438.37 165.43 439.24 163.79 440.11 162.16 440.97 160.55 441.84 158.96 442.71 157.39 443.58 155.85 444.44 154.34 445.31 152.84 446.18 151.38 447.05 149.94 447.91 148.53 448.78 147.15 449.65 145.79 450.52 144.46 451.38 143.16 452.25 141.89 453.12 140.65 453.99 139.44 454.85 138.25 455.72 137.09 456.59 135.96 457.46 134.86 458.32 133.78 459.19 132.73 460.06 131.71 460.93 130.72 461.8 129.75 462.66 128.8 463.53 127.88 464.4 126.99 465.27 126.12 466.13 125.27 467 124.44 467.87 123.64 468.74 122.86 469.6 122.1 470.47 121.37 471.34 120.65 472.21 119.95 473.07 119.28 473.94 118.62 474.81 117.98 475.68 117.36 476.54 116.75 477.41 116.16 478.28 115.59 479.15 115.04 480.01 114.5 480.88 113.97 481.75 113.46 482.62 112.96 483.49 112.48 484.35 112.01 485.22 111.55 486.09 111.11 486.96 110.68 487.82 110.25 488.69 109.84 489.56 109.44 490.43 109.05 491.29 108.67 492.16 108.3 493.03 107.94 493.9 107.59 494.76 107.24 495.63 106.9 496.5 106.58 497.37 106.26 498.23 105.94 499.1 105.64 499.97 105.34 500.84 105.04 501.7 104.76 502.57 104.48 503.44 104.2 504.31 103.93 505.18 103.67 506.04 103.41 506.91 103.16 507.78 102.91 508.65 102.67 509.51 102.43 510.38 102.19 511.25 101.96 512.12 101.74 512.98 101.52 513.85 101.3 514.72 101.09 515.59 100.88 516.45 100.67 517.32 100.47 518.19 100.27 519.06 100.08 519.92 99.89 520.79 99.7 521.66 99.51 522.53 99.33 523.39 99.16 524.26 98.98 525.13 98.81 526 98.64 526.87 98.48 527.73 98.31 528.6 98.15 529.47 98 530.34 97.84 531.2 97.69 532.07 97.54 532.94 97.4 533.81 97.26 534.67 97.12 535.54 96.98 536.41 96.84 537.28 96.71 538.14 96.58 539.01 96.46 539.88 96.33 540.75 96.21 541.61 96.09 542.48 95.98 543.35 95.86 544.22 95.75 545.08 95.64 545.95 95.53 546.82 95.43 547.69 95.33 548.56 95.23 549.42 95.13 550.29 95.03 551.16 94.94 552.03 94.85 552.89 94.76 553.76 94.67 554.63 94.59 555.5 94.51 556.36 94.42 557.23 94.35 558.1 94.27 558.97 94.19 559.83 94.12 560.7 94.05 561.57 93.98 562.44 93.91 563.3 93.85 564.17 93.78 565.04 93.72 565.91 93.66 566.77 93.6 567.64 93.54 568.51 93.49 569.38 93.43 570.25 93.38 571.11 93.33 571.98 93.28 572.85 93.23 573.72 93.18 574.58 93.13 575.45 93.09 576.32 93.05 577.19 93 578.05 92.96 578.92 92.92 579.79 92.89 580.66 92.85 581.52 92.81 582.39 92.78 583.26 92.74 584.13 92.71 584.99 92.68 585.86 92.65 586.73 92.62 587.6 92.59 588.46 92.56 589.33 92.53 590.2 92.5 591.07 92.48 591.94 92.45 592.8 92.43 593.67 92.4 594.54 92.38 595.41 92.36 596.27 92.34 597.14 92.32 598.01 92.3 598.88 92.28 599.74 92.26 600.61 92.24 601.48 92.22 602.35 92.21 603.21 92.19 604.08 92.17 604.95 92.16 605.82 92.14 606.68 92.13 607.55 92.11 608.42 92.1 609.29 92.09 610.15 92.07 611.02 92.06 611.89 92.05 612.76 92.04 613.63 92.03 614.49 92.02 615.36 92.01 616.23 92 617.1 91.99 617.96 91.98 618.83 91.97 619.7 91.96 620.57 91.95 621.43 91.94 622.3 91.93 623.17 91.93 624.04 91.92 624.9 91.91 625.77 91.9 626.64 91.9 627.51 91.89 628.37 91.89 629.24 91.88 630.11 91.87 630.98 91.87 631.84 91.86 632.71 91.86 633.58 91.85 634.45 91.85 635.32 91.84 636.18 91.84 637.05 91.83 637.92 91.83 638.79 91.82 639.65 91.82 640.52 91.81 641.39 91.81 642.26 91.81 643.12 91.8 643.99 91.8 644.86 91.8 645.73 91.79 646.59 91.79 647.46 91.79 648.33 91.78 649.2 91.78 650.06 91.78 650.93 91.78 651.8 91.77 652.67 91.77 653.53 91.77 654.4 91.76 655.27 91.76 656.14 91.76 657.01 91.76 657.87 91.76 658.74 91.75 659.61 91.75 660.48 91.75 661.34 91.75 662.21 91.75" stroke="#edb120" stroke-width="1.5" fill="none" stroke-linejoin="round"/>
<path d="M373.3 212.88 374.17 212.97 375.04 213.05 375.9 213.13 376.77 213.21 377.64 213.28 378.51 213.34 379.37 213.41 380.24 213.46 381.11 213.52 381.98 213.57 382.84 213.63 383.71 213.68 384.58 213.73 385.45 213.77 386.31 213.79 387.18 213.81 388.05 213.81 388.92 213.8 389.78 213.78 390.65 213.76 391.52 213.73 392.39 213.7 393.25 213.66 394.12 213.63 394.99 213.59 395.86 213.55 396.73 213.48 397.59 213.4 398.46 213.31 399.33 213.21 400.2 213.12 401.06 213.04 401.93 212.96 402.8 212.9 403.67 212.84 404.53 212.75 405.4 212.63 406.27 212.48 407.14 212.29 408 212.05 408.87 211.77 409.74 211.43 410.61 211.05 411.47 210.61 412.34 210.11 413.21 209.55 414.08 208.93 414.94 208.24 415.81 207.46 416.68 206.61 417.55 205.68 418.42 204.65 419.28 203.53 420.15 202.33 421.02 201.03 421.89 199.64 422.75 198.17 423.62 196.64 424.49 195.03 425.36 193.38 426.22 191.69 427.09 189.96 427.96 188.22 428.83 186.47 429.69 184.73 430.56 182.99 431.43 181.28 432.3 179.59 433.16 177.93 434.03 176.31 434.9 174.72 435.77 173.18 436.63 171.68 437.5 170.22 438.37 168.79 439.24 167.42 440.11 166.08 440.97 164.78 441.84 163.51 442.71 162.29 443.58 161.09 444.44 159.93 445.31 158.8 446.18 157.7 447.05 156.63 447.91 155.58 448.78 154.57 449.65 153.57 450.52 152.6 451.38 151.65 452.25 150.73 453.12 149.82 453.99 148.94 454.85 148.08 455.72 147.23 456.59 146.41 457.46 145.6 458.32 144.81 459.19 144.04 460.06 143.28 460.93 142.54 461.8 141.82 462.66 141.12 463.53 140.43 464.4 139.75 465.27 139.09 466.13 138.45 467 137.82 467.87 137.21 468.74 136.61 469.6 136.02 470.47 135.45 471.34 134.89 472.21 134.34 473.07 133.8 473.94 133.28 474.81 132.77 475.68 132.28 476.54 131.79 477.41 131.32 478.28 130.85 479.15 130.4 480.01 129.96 480.88 129.53 481.75 129.11 482.62 128.7 483.49 128.3 484.35 127.91 485.22 127.53 486.09 127.16 486.96 126.79 487.82 126.44 488.69 126.1 489.56 125.76 490.43 125.43 491.29 125.11 492.16 124.8 493.03 124.49 493.9 124.2 494.76 123.91 495.63 123.62 496.5 123.35 497.37 123.08 498.23 122.82 499.1 122.56 499.97 122.31 500.84 122.07 501.7 121.83 502.57 121.6 503.44 121.37 504.31 121.15 505.18 120.94 506.04 120.73 506.91 120.52 507.78 120.32 508.65 120.13 509.51 119.94 510.38 119.75 511.25 119.57 512.12 119.39 512.98 119.22 513.85 119.05 514.72 118.89 515.59 118.73 516.45 118.57 517.32 118.42 518.19 118.27 519.06 118.13 519.92 117.99 520.79 117.85 521.66 117.72 522.53 117.58 523.39 117.46 524.26 117.33 525.13 117.21 526 117.09 526.87 116.97 527.73 116.86 528.6 116.75 529.47 116.64 530.34 116.54 531.2 116.43 532.07 116.33 532.94 116.24 533.81 116.14 534.67 116.05 535.54 115.96 536.41 115.87 537.28 115.78 538.14 115.7 539.01 115.61 539.88 115.53 540.75 115.45 541.61 115.38 542.48 115.3 543.35 115.23 544.22 115.15 545.08 115.08 545.95 115.02 546.82 114.95 547.69 114.88 548.56 114.82 549.42 114.76 550.29 114.7 551.16 114.64 552.03 114.58 552.89 114.52 553.76 114.47 554.63 114.41 555.5 114.36 556.36 114.31 557.23 114.26 558.1 114.21 558.97 114.16 559.83 114.11 560.7 114.07 561.57 114.02 562.44 113.98 563.3 113.94 564.17 113.89 565.04 113.85 565.91 113.81 566.77 113.77 567.64 113.74 568.51 113.7 569.38 113.66 570.25 113.63 571.11 113.59 571.98 113.56 572.85 113.52 573.72 113.49 574.58 113.46 575.45 113.43 576.32 113.4 577.19 113.37 578.05 113.34 578.92 113.31 579.79 113.28 580.66 113.25 581.52 113.23 582.39 113.2 583.26 113.17 584.13 113.15 584.99 113.12 585.86 113.1 586.73 113.08 587.6 113.05 588.46 113.03 589.33 113.01 590.2 112.99 591.07 112.97 591.94 112.95 592.8 112.93 593.67 112.91 594.54 112.89 595.41 112.87 596.27 112.85 597.14 112.83 598.01 112.81 598.88 112.8 599.74 112.78 600.61 112.76 601.48 112.75 602.35 112.73 603.21 112.72 604.08 112.7 604.95 112.69 605.82 112.67 606.68 112.66 607.55 112.64 608.42 112.63 609.29 112.62 610.15 112.6 611.02 112.59 611.89 112.58 612.76 112.56 613.63 112.55 614.49 112.54 615.36 112.53 616.23 112.52 617.1 112.51 617.96 112.5 618.83 112.49 619.7 112.47 620.57 112.46 621.43 112.45 622.3 112.44 623.17 112.43 624.04 112.43 624.9 112.42 625.77 112.41 626.64 112.4 627.51 112.39 628.37 112.38 629.24 112.37 630.11 112.36 630.98 112.36 631.84 112.35 632.71 112.34 633.58 112.33 634.45 112.33 635.32 112.32 636.18 112.31 637.05 112.3 637.92 112.3 638.79 112.29 639.65 112.28 640.52 112.28 641.39 112.27 642.26 112.27 643.12 112.26 643.99 112.25 644.86 112.25 645.73 112.24 646.59 112.24 647.46 112.23 648.33 112.23 649.2 112.22 650.06 112.21 650.93 112.21 651.8 112.2 652.67 112.2 653.53 112.19 654.4 112.19 655.27 112.19 656.14 112.18 657.01 112.18 657.87 112.17 658.74 112.17 659.61 112.16 660.48 112.16 661.34 112.16 662.21 112.15" stroke="#ff0000" stroke-width="1.5" fill="none" stroke-linejoin="round"/>
<path d="M373.3 214.5v-3.2M373.3 12.5v3.2M402.22 214.5v-3.2M402.22 12.5v3.2M431.14 214.5v-3.2M431.14 12.5v3.2M460.06 214.5v-3.2M460.06 12.5v3.2M488.98 214.5v-3.2M488.98 12.5v3.2M517.9 214.5v-3.2M517.9 12.5v3.2M546.82 214.5v-3.2M546.82 12.5v3.2M575.74 214.5v-3.2M575.74 12.5v3.2M604.66 214.5v-3.2M604.66 12.5v3.2M633.58 214.5v-3.2M633.58 12.5v3.2M662.5 214.5v-3.2M662.5 12.5v3.2M373.3 214.5h3.2M662.5 214.5h-3.2M373.3 185.64h3.2M662.5 185.64h-3.2M373.3 156.79h3.2M662.5 156.79h-3.2M373.3 127.93h3.2M662.5 127.93h-3.2M373.3 99.07h3.2M662.5 99.07h-3.2M373.3 70.21h3.2M662.5 70.21h-3.2M373.3 41.36h3.2M662.5 41.36h-3.2M373.3 12.5h3.2M662.5 12.5h-3.2" stroke="#262626" stroke-width="0.7" fill="none"/>
<rect x="373.3" y="12.5" width="289.2" height="202" fill="none" stroke="#5a5a5a" stroke-width="1.1"/>
<g font-family='"Liberation Sans", sans-serif' font-size="6.2" fill="#262626" stroke="#262626" stroke-width="0.1"><text transform="translate(373.3 223.4) scale(0.82 1)" text-anchor="middle">0</text><text transform="translate(402.22 223.4) scale(0.82 1)" text-anchor="middle">50</text><text transform="translate(431.14 223.4) scale(0.82 1)" text-anchor="middle">100</text><text transform="translate(460.06 223.4) scale(0.82 1)" text-anchor="middle">150</text><text transform="translate(488.98 223.4) scale(0.82 1)" text-anchor="middle">200</text><text transform="translate(517.9 223.4) scale(0.82 1)" text-anchor="middle">250</text><text transform="translate(546.82 223.4) scale(0.82 1)" text-anchor="middle">300</text><text transform="translate(575.74 223.4) scale(0.82 1)" text-anchor="middle">350</text><text transform="translate(604.66 223.4) scale(0.82 1)" text-anchor="middle">400</text><text transform="translate(633.58 223.4) scale(0.82 1)" text-anchor="middle">450</text><text transform="translate(662.5 223.4) scale(0.82 1)" text-anchor="middle">500</text><text transform="translate(370.5 216.75) scale(0.82 1)" text-anchor="end">0</text><text transform="translate(370.5 187.89) scale(0.82 1)" text-anchor="end">0.5</text><text transform="translate(370.5 159.04) scale(0.82 1)" text-anchor="end">1</text><text transform="translate(370.5 130.18) scale(0.82 1)" text-anchor="end">1.5</text><text transform="translate(370.5 101.32) scale(0.82 1)" text-anchor="end">2</text><text transform="translate(370.5 72.46) scale(0.82 1)" text-anchor="end">2.5</text><text transform="translate(370.5 43.61) scale(0.82 1)" text-anchor="end">3</text><text transform="translate(370.5 14.75) scale(0.82 1)" text-anchor="end">3.5</text></g>
<g font-family='"Liberation Sans", sans-serif' fill="#262626"><text x="372.73" y="11.1" font-size="5.4">&#215;</text><text x="377.67" y="11.1" font-size="5">10</text><text x="383.25" y="8.4" font-size="4.2">4</text></g>
<text x="500.7" y="7.6" font-family='"Liberation Sans", sans-serif' font-size="10.5" font-style="italic" fill="#000">&#977;</text>
<text x="507.3" y="7.6" font-family='"Liberation Sans", sans-serif' font-size="10.3" font-weight="bold" fill="#000" textLength="27.0" lengthAdjust="spacing"><tspan dy="0.6">=</tspan><tspan dy="-0.6">0.90</tspan></text>
<text x="517.9" y="236.5" font-family='"Liberation Sans", sans-serif' font-size="10.6" fill="#000" text-anchor="middle">Time in Days</text>
<g font-family='"Liberation Serif", serif' fill="#000">
<text x="504.43" y="254.45" font-size="15.2">(</text>
<text x="510.09" y="254.15" font-size="12.8">b</text>
<text x="516.66" y="254.45" font-size="15.2">)</text>
</g>
<rect x="552.6" y="163.3" width="106" height="50" fill="#fff" stroke="#555" stroke-width="0.9"/>
<path d="M555.4 170.6H571.8" stroke="#0000ff" stroke-width="1.2"/>
<text x="572.9" y="172.1" font-family='"Liberation Sans", sans-serif' font-size="5.4" fill="#555">&#969;</text>
<text x="577.1" y="175.4" font-family='"Liberation Sans", sans-serif' font-size="5.0" fill="#222">1</text>
<text x="580.1" y="172.3" font-family='"Liberation Sans", sans-serif' font-size="6.6" fill="#222" stroke="#222" stroke-width="0.12" textLength="66.5" lengthAdjust="spacing">=0.4670, Baseline value</text>
<path d="M555.4 182.8H571.8" stroke="#000000" stroke-width="1.2"/>
<text x="572.9" y="184.3" font-family='"Liberation Sans", sans-serif' font-size="5.4" fill="#555">&#969;</text>
<text x="577.1" y="187.6" font-family='"Liberation Sans", sans-serif' font-size="5.0" fill="#222">1</text>
<text x="580.1" y="184.5" font-family='"Liberation Sans", sans-serif' font-size="6.6" fill="#222" stroke="#222" stroke-width="0.12" textLength="76.7" lengthAdjust="spacing">=0.5137, with 10% increase</text>
<path d="M555.4 194.6H571.8" stroke="#edb120" stroke-width="1.2"/>
<text x="572.9" y="196.1" font-family='"Liberation Sans", sans-serif' font-size="5.4" fill="#555">&#969;</text>
<text x="577.1" y="199.4" font-family='"Liberation Sans", sans-serif' font-size="5.0" fill="#222">1</text>
<text x="580.1" y="196.3" font-family='"Liberation Sans", sans-serif' font-size="6.6" fill="#222" stroke="#222" stroke-width="0.12" textLength="76.7" lengthAdjust="spacing">=0.6071, with 30% increase</text>
<path d="M555.4 206.6H571.8" stroke="#ff0000" stroke-width="1.2"/>
<text x="572.9" y="208.1" font-family='"Liberation Sans", sans-serif' font-size="5.4" fill="#555">&#969;</text>
<text x="577.1" y="211.4" font-family='"Liberation Sans", sans-serif' font-size="5.0" fill="#222">1</text>
<text x="580.1" y="208.3" font-family='"Liberation Sans", sans-serif' font-size="6.6" fill="#222" stroke="#222" stroke-width="0.12" textLength="76.7" lengthAdjust="spacing">=0.7005, with 50% increase</text>
<path d="M482.9 67.8L545.02 126.69" stroke="#333" stroke-width="0.8"/>
<path d="M548.4 129.9L542.32 127.3L544.8 126.49L545.48 123.97Z" fill="#111"/>
<text transform="translate(355.5 163.3) rotate(-90)" font-family='"Liberation Sans", sans-serif' font-size="10.9" fill="#000" textLength="85.8" lengthAdjust="spacingAndGlyphs">Infected humans,</text>
<text transform="translate(355.5 71.6) rotate(-90)" font-family='"Liberation Sans", sans-serif' font-size="10.9" fill="#000">I</text>
<text transform="translate(359.8 68.4) rotate(-90)" font-family='"Liberation Sans", sans-serif' font-size="7.8" fill="#000">h</text>
<path d="M224.46 490.3V287.6M253.42 490.3V287.6M282.38 490.3V287.6M311.34 490.3V287.6M340.3 490.3V287.6M369.26 490.3V287.6M398.22 490.3V287.6M427.18 490.3V287.6M456.14 490.3V287.6M195.5 464.96H485.1M195.5 439.62H485.1M195.5 414.29H485.1M195.5 388.95H485.1M195.5 363.61H485.1M195.5 338.28H485.1M195.5 312.94H485.1" stroke="#e6e6e6" stroke-width="0.8" fill="none"/>
<path d="M195.5 490.3 196.37 490.09 197.24 489.9 198.11 489.74 198.98 489.61 199.84 489.49 200.71 489.39 201.58 489.31 202.45 489.25 203.32 489.2 204.19 489.15 205.06 489.1 205.93 489.06 206.79 489.03 207.66 489 208.53 488.96 209.4 488.94 210.27 488.91 211.14 488.88 212.01 488.85 212.88 488.83 213.74 488.8 214.61 488.77 215.48 488.74 216.35 488.72 217.22 488.69 218.09 488.67 218.96 488.65 219.83 488.63 220.7 488.61 221.56 488.59 222.43 488.57 223.3 488.55 224.17 488.53 225.04 488.49 225.91 488.45 226.78 488.38 227.65 488.29 228.51 488.17 229.38 488.03 230.25 487.85 231.12 487.63 231.99 487.38 232.86 487.08 233.73 486.73 234.6 486.33 235.46 485.88 236.33 485.38 237.2 484.83 238.07 484.22 238.94 483.55 239.81 482.83 240.68 482.04 241.55 481.2 242.42 480.3 243.28 479.33 244.15 478.3 245.02 477.2 245.89 476.03 246.76 474.79 247.63 473.47 248.5 472.07 249.37 470.6 250.23 469.04 251.1 467.4 251.97 465.67 252.84 463.86 253.71 461.96 254.58 459.98 255.45 457.92 256.32 455.77 257.18 453.56 258.05 451.28 258.92 448.93 259.79 446.53 260.66 444.08 261.53 441.58 262.4 439.06 263.27 436.5 264.14 433.93 265 431.34 265.87 428.75 266.74 426.16 267.61 423.59 268.48 421.02 269.35 418.48 270.22 415.96 271.09 413.47 271.95 411.02 272.82 408.61 273.69 406.23 274.56 403.89 275.43 401.6 276.3 399.36 277.17 397.16 278.04 395.01 278.9 392.9 279.77 390.85 280.64 388.83 281.51 386.87 282.38 384.95 283.25 383.07 284.12 381.24 284.99 379.45 285.86 377.7 286.72 375.99 287.59 374.32 288.46 372.69 289.33 371.1 290.2 369.54 291.07 368.01 291.94 366.52 292.81 365.06 293.67 363.62 294.54 362.22 295.41 360.85 296.28 359.51 297.15 358.19 298.02 356.9 298.89 355.63 299.76 354.39 300.62 353.17 301.49 351.97 302.36 350.8 303.23 349.65 304.1 348.52 304.97 347.41 305.84 346.32 306.71 345.25 307.58 344.2 308.44 343.17 309.31 342.15 310.18 341.16 311.05 340.18 311.92 339.22 312.79 338.28 313.66 337.35 314.53 336.44 315.39 335.54 316.26 334.66 317.13 333.8 318 332.95 318.87 332.12 319.74 331.3 320.61 330.5 321.48 329.71 322.34 328.93 323.21 328.17 324.08 327.42 324.95 326.68 325.82 325.96 326.69 325.25 327.56 324.55 328.43 323.86 329.3 323.19 330.16 322.53 331.03 321.88 331.9 321.24 332.77 320.62 333.64 320 334.51 319.4 335.38 318.8 336.25 318.22 337.11 317.65 337.98 317.09 338.85 316.53 339.72 315.99 340.59 315.46 341.46 314.94 342.33 314.42 343.2 313.92 344.06 313.42 344.93 312.94 345.8 312.46 346.67 311.99 347.54 311.53 348.41 311.08 349.28 310.63 350.15 310.2 351.02 309.77 351.88 309.35 352.75 308.94 353.62 308.53 354.49 308.14 355.36 307.75 356.23 307.36 357.1 306.99 357.97 306.62 358.83 306.25 359.7 305.9 360.57 305.55 361.44 305.21 362.31 304.87 363.18 304.54 364.05 304.21 364.92 303.89 365.78 303.58 366.65 303.27 367.52 302.97 368.39 302.67 369.26 302.38 370.13 302.1 371 301.82 371.87 301.54 372.74 301.27 373.6 301 374.47 300.74 375.34 300.49 376.21 300.23 377.08 299.99 377.95 299.75 378.82 299.51 379.69 299.27 380.55 299.04 381.42 298.82 382.29 298.6 383.16 298.38 384.03 298.17 384.9 297.96 385.77 297.75 386.64 297.55 387.5 297.35 388.37 297.15 389.24 296.96 390.11 296.77 390.98 296.59 391.85 296.41 392.72 296.23 393.59 296.05 394.46 295.88 395.32 295.71 396.19 295.55 397.06 295.38 397.93 295.22 398.8 295.07 399.67 294.91 400.54 294.76 401.41 294.61 402.27 294.46 403.14 294.32 404.01 294.18 404.88 294.04 405.75 293.9 406.62 293.77 407.49 293.64 408.36 293.51 409.22 293.38 410.09 293.26 410.96 293.13 411.83 293.01 412.7 292.89 413.57 292.78 414.44 292.66 415.31 292.55 416.18 292.44 417.04 292.33 417.91 292.23 418.78 292.12 419.65 292.02 420.52 291.92 421.39 291.82 422.26 291.72 423.13 291.62 423.99 291.53 424.86 291.44 425.73 291.35 426.6 291.26 427.47 291.17 428.34 291.08 429.21 291 430.08 290.91 430.94 290.83 431.81 290.75 432.68 290.67 433.55 290.59 434.42 290.52 435.29 290.44 436.16 290.37 437.03 290.29 437.9 290.22 438.76 290.15 439.63 290.08 440.5 290.01 441.37 289.95 442.24 289.88 443.11 289.82 443.98 289.75 444.85 289.69 445.71 289.63 446.58 289.57 447.45 289.51 448.32 289.45 449.19 289.39 450.06 289.34 450.93 289.28 451.8 289.23 452.66 289.17 453.53 289.12 454.4 289.07 455.27 289.02 456.14 288.97 457.01 288.92 457.88 288.87 458.75 288.82 459.62 288.77 460.48 288.73 461.35 288.68 462.22 288.64 463.09 288.59 463.96 288.55 464.83 288.51 465.7 288.46 466.57 288.42 467.43 288.38 468.3 288.34 469.17 288.3 470.04 288.26 470.91 288.23 471.78 288.19 472.65 288.15 473.52 288.12 474.38 288.08 475.25 288.05 476.12 288.01 476.99 287.98 477.86 287.94 478.73 287.91 479.6 287.88 480.47 287.85 481.34 287.82 482.2 287.78 483.07 287.75 483.94 287.72 484.81 287.69" stroke="#0000ff" stroke-width="1.5" fill="none" stroke-linejoin="round"/>
<path d="M195.5 490.3 196.37 490.09 197.24 489.9 198.11 489.74 198.98 489.61 199.84 489.49 200.71 489.39 201.58 489.31 202.45 489.25 203.32 489.2 204.19 489.15 205.06 489.1 205.93 489.06 206.79 489.03 207.66 489 208.53 488.96 209.4 488.94 210.27 488.91 211.14 488.88 212.01 488.85 212.88 488.83 213.74 488.8 214.61 488.77 215.48 488.74 216.35 488.72 217.22 488.69 218.09 488.67 218.96 488.65 219.83 488.63 220.7 488.61 221.56 488.59 222.43 488.57 223.3 488.55 224.17 488.52 225.04 488.48 225.91 488.44 226.78 488.37 227.65 488.29 228.51 488.18 229.38 488.05 230.25 487.88 231.12 487.69 231.99 487.46 232.86 487.2 233.73 486.89 234.6 486.54 235.46 486.15 236.33 485.72 237.2 485.24 238.07 484.71 238.94 484.13 239.81 483.5 240.68 482.81 241.55 482.06 242.42 481.26 243.28 480.39 244.15 479.46 245.02 478.46 245.89 477.39 246.76 476.25 247.63 475.03 248.5 473.74 249.37 472.36 250.23 470.9 251.1 469.36 251.97 467.75 252.84 466.05 253.71 464.28 254.58 462.43 255.45 460.51 256.32 458.53 257.18 456.48 258.05 454.38 258.92 452.23 259.79 450.04 260.66 447.81 261.53 445.55 262.4 443.26 263.27 440.96 264.14 438.65 265 436.33 265.87 434.01 266.74 431.7 267.61 429.4 268.48 427.11 269.35 424.85 270.22 422.61 271.09 420.4 271.95 418.22 272.82 416.08 273.69 413.97 274.56 411.9 275.43 409.87 276.3 407.87 277.17 405.92 278.04 404.01 278.9 402.14 279.77 400.32 280.64 398.53 281.51 396.79 282.38 395.09 283.25 393.42 284.12 391.8 284.99 390.21 285.86 388.67 286.72 387.16 287.59 385.68 288.46 384.24 289.33 382.84 290.2 381.46 291.07 380.12 291.94 378.81 292.81 377.53 293.67 376.27 294.54 375.05 295.41 373.85 296.28 372.68 297.15 371.53 298.02 370.41 298.89 369.31 299.76 368.24 300.62 367.19 301.49 366.15 302.36 365.14 303.23 364.15 304.1 363.18 304.97 362.23 305.84 361.3 306.71 360.39 307.58 359.49 308.44 358.61 309.31 357.75 310.18 356.9 311.05 356.07 311.92 355.26 312.79 354.46 313.66 353.68 314.53 352.91 315.39 352.15 316.26 351.41 317.13 350.68 318 349.97 318.87 349.27 319.74 348.58 320.61 347.91 321.48 347.24 322.34 346.59 323.21 345.96 324.08 345.33 324.95 344.71 325.82 344.11 326.69 343.52 327.56 342.93 328.43 342.36 329.3 341.8 330.16 341.25 331.03 340.71 331.9 340.18 332.77 339.66 333.64 339.15 334.51 338.65 335.38 338.15 336.25 337.67 337.11 337.2 337.98 336.73 338.85 336.27 339.72 335.82 340.59 335.38 341.46 334.95 342.33 334.53 343.2 334.11 344.06 333.7 344.93 333.3 345.8 332.91 346.67 332.52 347.54 332.14 348.41 331.77 349.28 331.4 350.15 331.04 351.02 330.69 351.88 330.35 352.75 330.01 353.62 329.67 354.49 329.35 355.36 329.03 356.23 328.71 357.1 328.4 357.97 328.1 358.83 327.8 359.7 327.51 360.57 327.23 361.44 326.94 362.31 326.67 363.18 326.4 364.05 326.13 364.92 325.87 365.78 325.62 366.65 325.36 367.52 325.12 368.39 324.88 369.26 324.64 370.13 324.41 371 324.18 371.87 323.95 372.74 323.73 373.6 323.52 374.47 323.3 375.34 323.1 376.21 322.89 377.08 322.69 377.95 322.49 378.82 322.3 379.69 322.11 380.55 321.92 381.42 321.74 382.29 321.56 383.16 321.39 384.03 321.21 384.9 321.04 385.77 320.88 386.64 320.71 387.5 320.55 388.37 320.4 389.24 320.24 390.11 320.09 390.98 319.94 391.85 319.79 392.72 319.65 393.59 319.51 394.46 319.37 395.32 319.24 396.19 319.1 397.06 318.97 397.93 318.84 398.8 318.72 399.67 318.59 400.54 318.47 401.41 318.35 402.27 318.23 403.14 318.12 404.01 318.01 404.88 317.89 405.75 317.78 406.62 317.68 407.49 317.57 408.36 317.47 409.22 317.37 410.09 317.27 410.96 317.17 411.83 317.07 412.7 316.98 413.57 316.89 414.44 316.8 415.31 316.71 416.18 316.62 417.04 316.53 417.91 316.45 418.78 316.37 419.65 316.28 420.52 316.2 421.39 316.12 422.26 316.05 423.13 315.97 423.99 315.9 424.86 315.82 425.73 315.75 426.6 315.68 427.47 315.61 428.34 315.54 429.21 315.48 430.08 315.41 430.94 315.34 431.81 315.28 432.68 315.22 433.55 315.16 434.42 315.1 435.29 315.04 436.16 314.98 437.03 314.92 437.9 314.86 438.76 314.81 439.63 314.76 440.5 314.7 441.37 314.65 442.24 314.6 443.11 314.55 443.98 314.5 444.85 314.45 445.71 314.4 446.58 314.35 447.45 314.31 448.32 314.26 449.19 314.22 450.06 314.17 450.93 314.13 451.8 314.09 452.66 314.04 453.53 314 454.4 313.96 455.27 313.92 456.14 313.88 457.01 313.84 457.88 313.81 458.75 313.77 459.62 313.73 460.48 313.7 461.35 313.66 462.22 313.63 463.09 313.59 463.96 313.56 464.83 313.53 465.7 313.49 466.57 313.46 467.43 313.43 468.3 313.4 469.17 313.37 470.04 313.34 470.91 313.31 471.78 313.28 472.65 313.25 473.52 313.22 474.38 313.2 475.25 313.17 476.12 313.14 476.99 313.12 477.86 313.09 478.73 313.07 479.6 313.04 480.47 313.02 481.34 312.99 482.2 312.97 483.07 312.95 483.94 312.92 484.81 312.9" stroke="#000000" stroke-width="1.5" fill="none" stroke-linejoin="round"/>
<path d="M195.5 490.3 196.37 490.09 197.24 489.9 198.11 489.74 198.98 489.61 199.84 489.49 200.71 489.39 201.58 489.31 202.45 489.25 203.32 489.2 204.19 489.15 205.06 489.1 205.93 489.06 206.79 489.03 207.66 489 208.53 488.96 209.4 488.94 210.27 488.91 211.14 488.88 212.01 488.85 212.88 488.83 213.74 488.8 214.61 488.77 215.48 488.74 216.35 488.72 217.22 488.69 218.09 488.67 218.96 488.65 219.83 488.63 220.7 488.61 221.56 488.59 222.43 488.58 223.3 488.56 224.17 488.54 225.04 488.51 225.91 488.47 226.78 488.42 227.65 488.36 228.51 488.27 229.38 488.16 230.25 488.02 231.12 487.85 231.99 487.65 232.86 487.42 233.73 487.15 234.6 486.84 235.46 486.49 236.33 486.09 237.2 485.65 238.07 485.17 238.94 484.64 239.81 484.06 240.68 483.43 241.55 482.75 242.42 482.02 243.28 481.23 244.15 480.39 245.02 479.49 245.89 478.54 246.76 477.53 247.63 476.46 248.5 475.32 249.37 474.12 250.23 472.87 251.1 471.55 251.97 470.16 252.84 468.72 253.71 467.23 254.58 465.67 255.45 464.07 256.32 462.41 257.18 460.72 258.05 458.98 258.92 457.21 259.79 455.41 260.66 453.59 261.53 451.74 262.4 449.88 263.27 448.02 264.14 446.15 265 444.28 265.87 442.42 266.74 440.57 267.61 438.73 268.48 436.9 269.35 435.1 270.22 433.32 271.09 431.56 271.95 429.83 272.82 428.13 273.69 426.46 274.56 424.81 275.43 423.2 276.3 421.62 277.17 420.08 278.04 418.56 278.9 417.08 279.77 415.63 280.64 414.21 281.51 412.82 282.38 411.46 283.25 410.13 284.12 408.83 284.99 407.56 285.86 406.32 286.72 405.11 287.59 403.92 288.46 402.76 289.33 401.62 290.2 400.51 291.07 399.42 291.94 398.35 292.81 397.31 293.67 396.29 294.54 395.29 295.41 394.31 296.28 393.35 297.15 392.41 298.02 391.49 298.89 390.59 299.76 389.71 300.62 388.84 301.49 388 302.36 387.16 303.23 386.35 304.1 385.55 304.97 384.77 305.84 384.01 306.71 383.26 307.58 382.52 308.44 381.8 309.31 381.1 310.18 380.41 311.05 379.73 311.92 379.06 312.79 378.41 313.66 377.78 314.53 377.15 315.39 376.54 316.26 375.94 317.13 375.35 318 374.78 318.87 374.21 319.74 373.66 320.61 373.12 321.48 372.59 322.34 372.07 323.21 371.56 324.08 371.06 324.95 370.58 325.82 370.1 326.69 369.63 327.56 369.17 328.43 368.72 329.3 368.28 330.16 367.85 331.03 367.43 331.9 367.02 332.77 366.62 333.64 366.22 334.51 365.83 335.38 365.45 336.25 365.08 337.11 364.72 337.98 364.36 338.85 364.02 339.72 363.67 340.59 363.34 341.46 363.01 342.33 362.69 343.2 362.38 344.06 362.07 344.93 361.77 345.8 361.48 346.67 361.19 347.54 360.91 348.41 360.64 349.28 360.37 350.15 360.1 351.02 359.85 351.88 359.59 352.75 359.35 353.62 359.1 354.49 358.87 355.36 358.63 356.23 358.41 357.1 358.18 357.97 357.97 358.83 357.75 359.7 357.55 360.57 357.34 361.44 357.14 362.31 356.95 363.18 356.76 364.05 356.57 364.92 356.39 365.78 356.21 366.65 356.03 367.52 355.86 368.39 355.69 369.26 355.53 370.13 355.36 371 355.21 371.87 355.05 372.74 354.9 373.6 354.75 374.47 354.61 375.34 354.47 376.21 354.33 377.08 354.19 377.95 354.06 378.82 353.93 379.69 353.8 380.55 353.68 381.42 353.55 382.29 353.44 383.16 353.32 384.03 353.2 384.9 353.09 385.77 352.98 386.64 352.87 387.5 352.77 388.37 352.67 389.24 352.56 390.11 352.47 390.98 352.37 391.85 352.27 392.72 352.18 393.59 352.09 394.46 352 395.32 351.91 396.19 351.83 397.06 351.74 397.93 351.66 398.8 351.58 399.67 351.5 400.54 351.43 401.41 351.35 402.27 351.28 403.14 351.21 404.01 351.13 404.88 351.07 405.75 351 406.62 350.93 407.49 350.87 408.36 350.8 409.22 350.74 410.09 350.68 410.96 350.62 411.83 350.56 412.7 350.5 413.57 350.45 414.44 350.39 415.31 350.34 416.18 350.28 417.04 350.23 417.91 350.18 418.78 350.13 419.65 350.08 420.52 350.03 421.39 349.99 422.26 349.94 423.13 349.9 423.99 349.85 424.86 349.81 425.73 349.77 426.6 349.72 427.47 349.68 428.34 349.64 429.21 349.6 430.08 349.57 430.94 349.53 431.81 349.49 432.68 349.45 433.55 349.42 434.42 349.38 435.29 349.35 436.16 349.32 437.03 349.28 437.9 349.25 438.76 349.22 439.63 349.19 440.5 349.16 441.37 349.13 442.24 349.1 443.11 349.07 443.98 349.04 444.85 349.02 445.71 348.99 446.58 348.96 447.45 348.94 448.32 348.91 449.19 348.89 450.06 348.86 450.93 348.84 451.8 348.82 452.66 348.79 453.53 348.77 454.4 348.75 455.27 348.73 456.14 348.71 457.01 348.69 457.88 348.67 458.75 348.65 459.62 348.63 460.48 348.61 461.35 348.59 462.22 348.57 463.09 348.55 463.96 348.53 464.83 348.52 465.7 348.5 466.57 348.48 467.43 348.46 468.3 348.45 469.17 348.43 470.04 348.42 470.91 348.4 471.78 348.39 472.65 348.37 473.52 348.36 474.38 348.34 475.25 348.33 476.12 348.32 476.99 348.3 477.86 348.29 478.73 348.28 479.6 348.26 480.47 348.25 481.34 348.24 482.2 348.23 483.07 348.21 483.94 348.2 484.81 348.19" stroke="#edb120" stroke-width="1.5" fill="none" stroke-linejoin="round"/>
<path d="M195.5 490.3 196.37 490.09 197.24 489.9 198.11 489.74 198.98 489.61 199.84 489.49 200.71 489.39 201.58 489.31 202.45 489.25 203.32 489.2 204.19 489.15 205.06 489.1 205.93 489.06 206.79 489.03 207.66 489 208.53 488.96 209.4 488.94 210.27 488.91 211.14 488.88 212.01 488.85 212.88 488.83 213.74 488.8 214.61 488.77 215.48 488.74 216.35 488.72 217.22 488.69 218.09 488.67 218.96 488.65 219.83 488.63 220.7 488.61 221.56 488.6 222.43 488.59 223.3 488.58 224.17 488.56 225.04 488.53 225.91 488.49 226.78 488.43 227.65 488.37 228.51 488.3 229.38 488.21 230.25 488.11 231.12 487.99 231.99 487.85 232.86 487.69 233.73 487.5 234.6 487.27 235.46 487.01 236.33 486.7 237.2 486.34 238.07 485.93 238.94 485.47 239.81 484.95 240.68 484.37 241.55 483.73 242.42 483.03 243.28 482.27 244.15 481.45 245.02 480.58 245.89 479.65 246.76 478.66 247.63 477.62 248.5 476.54 249.37 475.4 250.23 474.23 251.1 473.01 251.97 471.75 252.84 470.46 253.71 469.14 254.58 467.79 255.45 466.42 256.32 465.02 257.18 463.61 258.05 462.17 258.92 460.73 259.79 459.28 260.66 457.81 261.53 456.35 262.4 454.87 263.27 453.4 264.14 451.93 265 450.46 265.87 449 266.74 447.55 267.61 446.1 268.48 444.66 269.35 443.23 270.22 441.82 271.09 440.41 271.95 439.03 272.82 437.65 273.69 436.3 274.56 434.96 275.43 433.64 276.3 432.33 277.17 431.05 278.04 429.78 278.9 428.53 279.77 427.31 280.64 426.1 281.51 424.91 282.38 423.74 283.25 422.6 284.12 421.47 284.99 420.37 285.86 419.28 286.72 418.22 287.59 417.18 288.46 416.15 289.33 415.15 290.2 414.17 291.07 413.2 291.94 412.26 292.81 411.34 293.67 410.44 294.54 409.55 295.41 408.68 296.28 407.84 297.15 407.01 298.02 406.2 298.89 405.41 299.76 404.63 300.62 403.87 301.49 403.13 302.36 402.41 303.23 401.7 304.1 401.01 304.97 400.33 305.84 399.67 306.71 399.03 307.58 398.4 308.44 397.78 309.31 397.18 310.18 396.6 311.05 396.02 311.92 395.46 312.79 394.92 313.66 394.38 314.53 393.86 315.39 393.35 316.26 392.86 317.13 392.37 318 391.9 318.87 391.44 319.74 390.98 320.61 390.54 321.48 390.11 322.34 389.69 323.21 389.28 324.08 388.88 324.95 388.49 325.82 388.11 326.69 387.74 327.56 387.38 328.43 387.02 329.3 386.68 330.16 386.34 331.03 386.01 331.9 385.69 332.77 385.37 333.64 385.07 334.51 384.77 335.38 384.47 336.25 384.19 337.11 383.91 337.98 383.64 338.85 383.37 339.72 383.11 340.59 382.86 341.46 382.61 342.33 382.37 343.2 382.13 344.06 381.9 344.93 381.68 345.8 381.46 346.67 381.24 347.54 381.04 348.41 380.83 349.28 380.63 350.15 380.44 351.02 380.24 351.88 380.06 352.75 379.88 353.62 379.7 354.49 379.52 355.36 379.35 356.23 379.19 357.1 379.03 357.97 378.87 358.83 378.71 359.7 378.56 360.57 378.41 361.44 378.27 362.31 378.13 363.18 377.99 364.05 377.85 364.92 377.72 365.78 377.59 366.65 377.47 367.52 377.34 368.39 377.22 369.26 377.1 370.13 376.99 371 376.87 371.87 376.76 372.74 376.65 373.6 376.55 374.47 376.45 375.34 376.34 376.21 376.24 377.08 376.15 377.95 376.05 378.82 375.96 379.69 375.87 380.55 375.78 381.42 375.69 382.29 375.61 383.16 375.52 384.03 375.44 384.9 375.36 385.77 375.28 386.64 375.21 387.5 375.13 388.37 375.06 389.24 374.99 390.11 374.91 390.98 374.85 391.85 374.78 392.72 374.71 393.59 374.65 394.46 374.58 395.32 374.52 396.19 374.46 397.06 374.4 397.93 374.34 398.8 374.28 399.67 374.23 400.54 374.17 401.41 374.12 402.27 374.06 403.14 374.01 404.01 373.96 404.88 373.91 405.75 373.86 406.62 373.81 407.49 373.76 408.36 373.72 409.22 373.67 410.09 373.63 410.96 373.58 411.83 373.54 412.7 373.5 413.57 373.45 414.44 373.41 415.31 373.37 416.18 373.33 417.04 373.29 417.91 373.26 418.78 373.22 419.65 373.18 420.52 373.15 421.39 373.11 422.26 373.08 423.13 373.04 423.99 373.01 424.86 372.98 425.73 372.94 426.6 372.91 427.47 372.88 428.34 372.85 429.21 372.82 430.08 372.79 430.94 372.76 431.81 372.73 432.68 372.71 433.55 372.68 434.42 372.65 435.29 372.62 436.16 372.6 437.03 372.57 437.9 372.55 438.76 372.52 439.63 372.5 440.5 372.47 441.37 372.45 442.24 372.42 443.11 372.4 443.98 372.38 444.85 372.36 445.71 372.33 446.58 372.31 447.45 372.29 448.32 372.27 449.19 372.25 450.06 372.23 450.93 372.21 451.8 372.19 452.66 372.17 453.53 372.15 454.4 372.13 455.27 372.11 456.14 372.09 457.01 372.08 457.88 372.06 458.75 372.04 459.62 372.02 460.48 372.01 461.35 371.99 462.22 371.97 463.09 371.96 463.96 371.94 464.83 371.93 465.7 371.91 466.57 371.89 467.43 371.88 468.3 371.86 469.17 371.85 470.04 371.84 470.91 371.82 471.78 371.81 472.65 371.79 473.52 371.78 474.38 371.77 475.25 371.75 476.12 371.74 476.99 371.73 477.86 371.71 478.73 371.7 479.6 371.69 480.47 371.67 481.34 371.66 482.2 371.65 483.07 371.64 483.94 371.63 484.81 371.61" stroke="#ff0000" stroke-width="1.5" fill="none" stroke-linejoin="round"/>
<path d="M195.5 490.3v-3.2M195.5 287.6v3.2M224.46 490.3v-3.2M224.46 287.6v3.2M253.42 490.3v-3.2M253.42 287.6v3.2M282.38 490.3v-3.2M282.38 287.6v3.2M311.34 490.3v-3.2M311.34 287.6v3.2M340.3 490.3v-3.2M340.3 287.6v3.2M369.26 490.3v-3.2M369.26 287.6v3.2M398.22 490.3v-3.2M398.22 287.6v3.2M427.18 490.3v-3.2M427.18 287.6v3.2M456.14 490.3v-3.2M456.14 287.6v3.2M485.1 490.3v-3.2M485.1 287.6v3.2M195.5 490.3h3.2M485.1 490.3h-3.2M195.5 464.96h3.2M485.1 464.96h-3.2M195.5 439.62h3.2M485.1 439.62h-3.2M195.5 414.29h3.2M485.1 414.29h-3.2M195.5 388.95h3.2M485.1 388.95h-3.2M195.5 363.61h3.2M485.1 363.61h-3.2M195.5 338.28h3.2M485.1 338.28h-3.2M195.5 312.94h3.2M485.1 312.94h-3.2M195.5 287.6h3.2M485.1 287.6h-3.2" stroke="#262626" stroke-width="0.7" fill="none"/>
<rect x="195.5" y="287.6" width="289.6" height="202.7" fill="none" stroke="#5a5a5a" stroke-width="1.1"/>
<g font-family='"Liberation Sans", sans-serif' font-size="6.2" fill="#262626" stroke="#262626" stroke-width="0.1"><text transform="translate(195.5 499.2) scale(0.82 1)" text-anchor="middle">0</text><text transform="translate(224.46 499.2) scale(0.82 1)" text-anchor="middle">50</text><text transform="translate(253.42 499.2) scale(0.82 1)" text-anchor="middle">100</text><text transform="translate(282.38 499.2) scale(0.82 1)" text-anchor="middle">150</text><text transform="translate(311.34 499.2) scale(0.82 1)" text-anchor="middle">200</text><text transform="translate(340.3 499.2) scale(0.82 1)" text-anchor="middle">250</text><text transform="translate(369.26 499.2) scale(0.82 1)" text-anchor="middle">300</text><text transform="translate(398.22 499.2) scale(0.82 1)" text-anchor="middle">350</text><text transform="translate(427.18 499.2) scale(0.82 1)" text-anchor="middle">400</text><text transform="translate(456.14 499.2) scale(0.82 1)" text-anchor="middle">450</text><text transform="translate(485.1 499.2) scale(0.82 1)" text-anchor="middle">500</text><text transform="translate(192.7 492.55) scale(0.82 1)" text-anchor="end">0</text><text transform="translate(192.7 467.21) scale(0.82 1)" text-anchor="end">0.5</text><text transform="translate(192.7 441.88) scale(0.82 1)" text-anchor="end">1</text><text transform="translate(192.7 416.54) scale(0.82 1)" text-anchor="end">1.5</text><text transform="translate(192.7 391.2) scale(0.82 1)" text-anchor="end">2</text><text transform="translate(192.7 365.86) scale(0.82 1)" text-anchor="end">2.5</text><text transform="translate(192.7 340.53) scale(0.82 1)" text-anchor="end">3</text><text transform="translate(192.7 315.19) scale(0.82 1)" text-anchor="end">3.5</text><text transform="translate(192.7 289.85) scale(0.82 1)" text-anchor="end">4</text></g>
<g font-family='"Liberation Sans", sans-serif' fill="#262626"><text x="194.93" y="286.2" font-size="5.4">&#215;</text><text x="199.87" y="286.2" font-size="5">10</text><text x="205.45" y="283.5" font-size="4.2">4</text></g>
<text x="323.1" y="282.7" font-family='"Liberation Sans", sans-serif' font-size="10.5" font-style="italic" fill="#000">&#977;</text>
<text x="329.7" y="282.7" font-family='"Liberation Sans", sans-serif' font-size="10.3" font-weight="bold" fill="#000" textLength="27.0" lengthAdjust="spacing"><tspan dy="0.6">=</tspan><tspan dy="-0.6">0.90</tspan></text>
<text x="340.3" y="512.3" font-family='"Liberation Sans", sans-serif' font-size="10.6" fill="#000" text-anchor="middle">Time in Days</text>
<g font-family='"Liberation Serif", serif' fill="#000">
<text x="327.18" y="530.45" font-size="15.2">(</text>
<text x="332.36" y="530.15" font-size="12.8">c</text>
<text x="337.91" y="530.45" font-size="15.2">)</text>
</g>
<rect x="372.3" y="436.7" width="106.3" height="49.7" fill="#fff" stroke="#555" stroke-width="0.9"/>
<path d="M375.2 443.6H391.7" stroke="#0000ff" stroke-width="1.2"/>
<text x="392.4" y="445.1" font-family='"Liberation Sans", sans-serif' font-size="5.4" fill="#555">&#969;</text>
<text x="396.6" y="448.4" font-family='"Liberation Sans", sans-serif' font-size="5.0" fill="#222">1</text>
<text x="399.6" y="445.3" font-family='"Liberation Sans", sans-serif' font-size="6.6" fill="#222" stroke="#222" stroke-width="0.12" textLength="66.5" lengthAdjust="spacing">=0.4670, Baseline value</text>
<path d="M375.2 455.3H391.7" stroke="#000000" stroke-width="1.2"/>
<text x="392.4" y="456.8" font-family='"Liberation Sans", sans-serif' font-size="5.4" fill="#555">&#969;</text>
<text x="396.6" y="460.1" font-family='"Liberation Sans", sans-serif' font-size="5.0" fill="#222">1</text>
<text x="399.6" y="457" font-family='"Liberation Sans", sans-serif' font-size="6.6" fill="#222" stroke="#222" stroke-width="0.12" textLength="76.7" lengthAdjust="spacing">=0.5137, with 10% increase</text>
<path d="M375.2 467.2H391.7" stroke="#edb120" stroke-width="1.2"/>
<text x="392.4" y="468.7" font-family='"Liberation Sans", sans-serif' font-size="5.4" fill="#555">&#969;</text>
<text x="396.6" y="472" font-family='"Liberation Sans", sans-serif' font-size="5.0" fill="#222">1</text>
<text x="399.6" y="468.9" font-family='"Liberation Sans", sans-serif' font-size="6.6" fill="#222" stroke="#222" stroke-width="0.12" textLength="76.7" lengthAdjust="spacing">=0.6071, with 30% increase</text>
<path d="M375.2 479H391.7" stroke="#ff0000" stroke-width="1.2"/>
<text x="392.4" y="480.5" font-family='"Liberation Sans", sans-serif' font-size="5.4" fill="#555">&#969;</text>
<text x="396.6" y="483.8" font-family='"Liberation Sans", sans-serif' font-size="5.0" fill="#222">1</text>
<text x="399.6" y="480.7" font-family='"Liberation Sans", sans-serif' font-size="6.6" fill="#222" stroke="#222" stroke-width="0.12" textLength="76.7" lengthAdjust="spacing">=0.7005, with 50% increase</text>
<path d="M299.3 324.3L372.3 384.15" stroke="#333" stroke-width="0.8"/>
<path d="M375.9 387.1L369.65 384.95L372.06 383.96L372.56 381.39Z" fill="#111"/>
<text transform="translate(178.4 447.7) rotate(-90)" font-family='"Liberation Sans", sans-serif' font-size="10.9" fill="#000" textLength="101.1" lengthAdjust="spacingAndGlyphs">Clinically ill humans,</text>
<text transform="translate(178.4 343.4) rotate(-90)" font-family='"Liberation Sans", sans-serif' font-size="10.9" fill="#000">C</text>
<text transform="translate(182.9 335.6) rotate(-90)" font-family='"Liberation Sans", sans-serif' font-size="7.8" fill="#000">h</text>
</svg></body></html>
